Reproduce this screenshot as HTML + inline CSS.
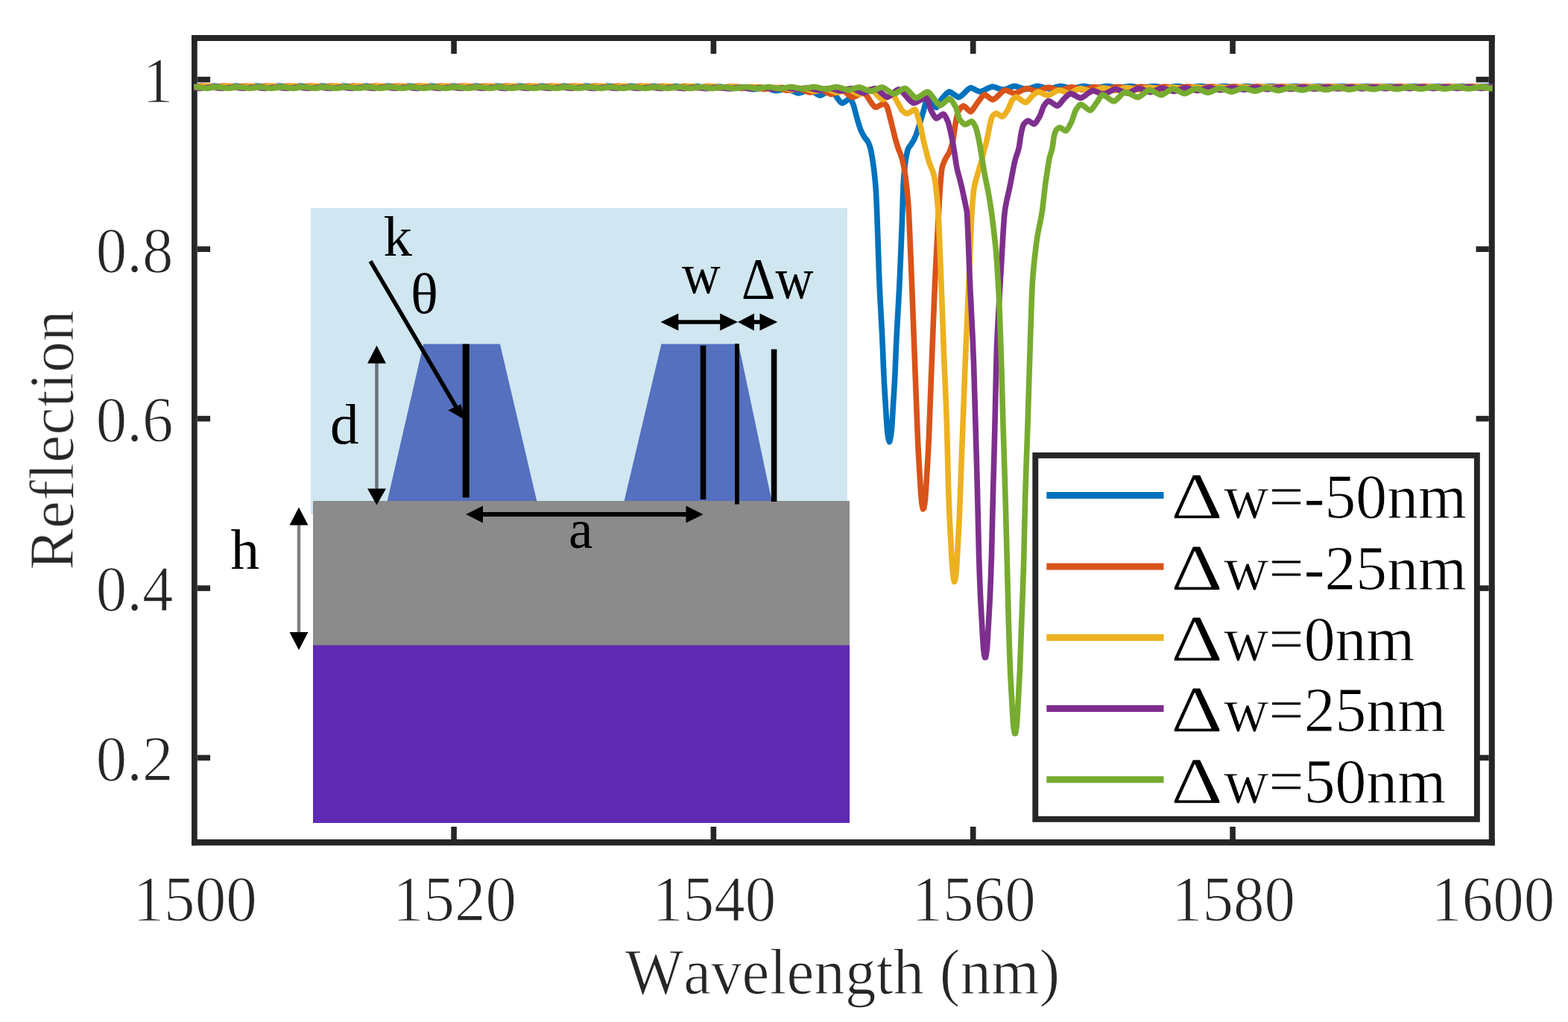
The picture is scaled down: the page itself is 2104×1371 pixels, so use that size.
<!DOCTYPE html>
<html lang="en"><head><meta charset="utf-8"><title>Reflection vs Wavelength</title>
<style>html,body{margin:0;padding:0;background:#fff;}body{width:2104px;height:1371px;overflow:hidden;}svg{display:block;}text{font-family:"Liberation Serif", "DejaVu Serif", serif;font-kerning:none;font-variant-ligatures:none;}</style>
</head><body>
<svg width="2104" height="1371" viewBox="0 0 2104 1371">
<defs><filter id="soft" filterUnits="userSpaceOnUse" x="0" y="0" width="2104" height="1371" color-interpolation-filters="sRGB"><feGaussianBlur stdDeviation="0.55"/></filter></defs>
<rect x="0" y="0" width="2104" height="1371" fill="#ffffff"/>
<g id="figure" filter="url(#soft)">
<g id="axes" stroke="#262626" fill="none" stroke-linecap="butt">
<line x1="260.90" y1="47.00" x2="260.90" y2="1134.30" stroke-width="7.7"/>
<line x1="2001.80" y1="47.00" x2="2001.80" y2="1134.30" stroke-width="8.0"/>
<line x1="257.05" y1="51.00" x2="2005.80" y2="51.00" stroke-width="8.0"/>
<line x1="257.05" y1="1130.20" x2="2005.80" y2="1130.20" stroke-width="8.2"/>
<line x1="609.06" y1="1126.20" x2="609.06" y2="1109.00" stroke-width="7.60"/>
<line x1="609.06" y1="55.00" x2="609.06" y2="72.20" stroke-width="7.60"/>
<line x1="957.40" y1="1126.20" x2="957.40" y2="1109.00" stroke-width="7.60"/>
<line x1="957.40" y1="55.00" x2="957.40" y2="72.20" stroke-width="7.60"/>
<line x1="1305.73" y1="1126.20" x2="1305.73" y2="1109.00" stroke-width="7.60"/>
<line x1="1305.73" y1="55.00" x2="1305.73" y2="72.20" stroke-width="7.60"/>
<line x1="1654.07" y1="1126.20" x2="1654.07" y2="1109.00" stroke-width="7.60"/>
<line x1="1654.07" y1="55.00" x2="1654.07" y2="72.20" stroke-width="7.60"/>
<line x1="264.90" y1="1016.55" x2="282.10" y2="1016.55" stroke-width="7.60"/>
<line x1="1997.80" y1="1016.55" x2="1980.60" y2="1016.55" stroke-width="7.60"/>
<line x1="264.90" y1="789.10" x2="282.10" y2="789.10" stroke-width="7.60"/>
<line x1="1997.80" y1="789.10" x2="1980.60" y2="789.10" stroke-width="7.60"/>
<line x1="264.90" y1="561.65" x2="282.10" y2="561.65" stroke-width="7.60"/>
<line x1="1997.80" y1="561.65" x2="1980.60" y2="561.65" stroke-width="7.60"/>
<line x1="264.90" y1="334.20" x2="282.10" y2="334.20" stroke-width="7.60"/>
<line x1="1997.80" y1="334.20" x2="1980.60" y2="334.20" stroke-width="7.60"/>
<line x1="264.90" y1="106.75" x2="282.10" y2="106.75" stroke-width="7.60"/>
<line x1="1997.80" y1="106.75" x2="1980.60" y2="106.75" stroke-width="7.60"/>
</g>
<g id="ticklabels">
<text transform="translate(261.63 1234.80) scale(0.9550 1.0000)" font-size="87.00" text-anchor="middle" fill="#262626" stroke="#ffffff" stroke-width="1.30" stroke-linejoin="round">1500</text>
<text transform="translate(609.96 1234.80) scale(0.9550 1.0000)" font-size="87.00" text-anchor="middle" fill="#262626" stroke="#ffffff" stroke-width="1.30" stroke-linejoin="round">1520</text>
<text transform="translate(958.30 1234.80) scale(0.9550 1.0000)" font-size="87.00" text-anchor="middle" fill="#262626" stroke="#ffffff" stroke-width="1.30" stroke-linejoin="round">1540</text>
<text transform="translate(1306.63 1234.80) scale(0.9550 1.0000)" font-size="87.00" text-anchor="middle" fill="#262626" stroke="#ffffff" stroke-width="1.30" stroke-linejoin="round">1560</text>
<text transform="translate(1654.97 1234.80) scale(0.9550 1.0000)" font-size="87.00" text-anchor="middle" fill="#262626" stroke="#ffffff" stroke-width="1.30" stroke-linejoin="round">1580</text>
<text transform="translate(2003.30 1234.80) scale(0.9550 1.0000)" font-size="87.00" text-anchor="middle" fill="#262626" stroke="#ffffff" stroke-width="1.30" stroke-linejoin="round">1600</text>
<text transform="translate(232.30 137.05) scale(0.9520 1.0000)" font-size="87.00" text-anchor="end" fill="#262626" stroke="#ffffff" stroke-width="1.30" stroke-linejoin="round">1</text>
<text transform="translate(232.30 364.50) scale(0.9520 1.0000)" font-size="87.00" text-anchor="end" fill="#262626" stroke="#ffffff" stroke-width="1.30" stroke-linejoin="round">0.8</text>
<text transform="translate(232.30 591.95) scale(0.9520 1.0000)" font-size="87.00" text-anchor="end" fill="#262626" stroke="#ffffff" stroke-width="1.30" stroke-linejoin="round">0.6</text>
<text transform="translate(232.30 819.40) scale(0.9520 1.0000)" font-size="87.00" text-anchor="end" fill="#262626" stroke="#ffffff" stroke-width="1.30" stroke-linejoin="round">0.4</text>
<text transform="translate(232.30 1046.85) scale(0.9520 1.0000)" font-size="87.00" text-anchor="end" fill="#262626" stroke="#ffffff" stroke-width="1.30" stroke-linejoin="round">0.2</text>
</g>
<text transform="translate(1130.50 1332.50) scale(0.9550 1.0000)" font-size="87.00" text-anchor="middle" fill="#262626" stroke="#ffffff" stroke-width="1.20" stroke-linejoin="round">Wavelength (nm)</text>
<text transform="translate(98.10 590.50) rotate(-90) scale(0.9850 1.0000)" font-size="85.00" text-anchor="middle" fill="#262626" stroke="#ffffff" stroke-width="1.20" stroke-linejoin="round">Reflection</text>
<g id="inset">
<rect x="417" y="279" width="720" height="411" fill="#d0e6f1"/>
<rect x="420" y="672" width="720" height="194" fill="#8b8b8b"/>
<rect x="420" y="865.5" width="720" height="238.5" fill="#5e2ab1"/>
<polygon points="568.2,461.5 670.9,461.5 720.3,672 519.7,672" fill="#5470be"/>
<polygon points="887.4,461.5 991,461.5 1035.6,672 837.6,672" fill="#5470be"/>
<g stroke="#000" fill="none">
<line x1="625.2" y1="461.5" x2="625.2" y2="667.5" stroke-width="9"/>
<line x1="943.5" y1="463.5" x2="943.5" y2="670" stroke-width="7.6"/>
<line x1="989" y1="461" x2="989" y2="676.5" stroke-width="6"/>
<line x1="1038.6" y1="468.5" x2="1038.6" y2="673" stroke-width="7.6"/>
<line x1="497" y1="350.3" x2="612" y2="546" stroke-width="5.5"/>
<line x1="640" y1="689.9" x2="930" y2="689.9" stroke-width="6"/>
<line x1="905" y1="432" x2="972" y2="432" stroke-width="5.5"/>
<line x1="1008" y1="432" x2="1024" y2="432" stroke-width="5.5"/>
</g>
<g stroke="#000" stroke-opacity="0.5" fill="none">
<line x1="505.5" y1="480" x2="505.5" y2="660" stroke-width="4.5"/>
<line x1="401" y1="700" x2="401" y2="855" stroke-width="4.5"/>
</g>
<g fill="#000" stroke="none">
<polygon points="623.8,563.2 601.3,550.2 618.4,542.2"/>
<polygon points="505.5,463.5 493,487.5 518,487.5"/>
<polygon points="505.5,677.5 493,655.5 518,655.5"/>
<polygon points="401,680.5 388.5,704.5 413.5,704.5"/>
<polygon points="401,872 388.5,848 413.5,848"/>
<polygon points="625.2,689.9 648,678.4 648,701.4"/>
<polygon points="943.5,689.9 920.5,678.4 920.5,701.4"/>
<polygon points="886.5,432 910.3,420.5 910.3,443.5"/>
<polygon points="990,432 966.2,420.5 966.2,443.5"/>
<polygon points="990,432 1012,420.5 1012,443.5"/>
<polygon points="1043.3,432 1019.5,420.5 1019.5,443.5"/>
</g>
<text transform="translate(514.50 342.50)" font-size="77.00" text-anchor="start" fill="#000">k</text>
<text transform="translate(551.00 419.50)" font-size="77.00" text-anchor="start" fill="#000">θ</text>
<text transform="translate(443.00 594.50)" font-size="77.00" text-anchor="start" fill="#000">d</text>
<text transform="translate(309.50 763.00)" font-size="77.00" text-anchor="start" fill="#000">h</text>
<text transform="translate(763.00 734.80)" font-size="73.00" text-anchor="start" fill="#000">a</text>
<text transform="translate(915.00 393.30) scale(0.9300 1.0000)" font-size="77.00" text-anchor="start" fill="#000">w</text>
<text transform="translate(995.00 400.00) scale(0.9050 1.0000)" font-size="78.00" text-anchor="start" fill="#000">Δw</text>
</g>
<g id="curves" fill="none" stroke-width="7.6" stroke-linejoin="round" stroke-linecap="butt">
<path stroke="#0072BD" d="M260.5 115.6L261.5 115.7L262.5 115.9L263.5 116.0L264.5 116.2L265.5 116.3L266.5 116.5L267.5 116.6L268.5 116.8L269.5 116.9L270.5 117.0L271.5 117.1L272.5 117.1L273.5 117.0L274.5 116.9L275.5 116.7L276.5 116.6L277.5 116.5L278.5 116.3L279.5 116.1L280.5 116.0L281.5 115.8L282.5 115.7L283.5 115.6L284.5 115.4L285.5 115.4L286.5 115.3L287.5 115.4L288.5 115.5L289.5 115.6L290.5 115.7L291.5 115.9L292.5 116.0L293.5 116.2L294.5 116.4L295.5 116.5L296.5 116.7L297.5 116.8L298.5 116.9L299.5 117.0L300.5 117.1L301.5 117.0L302.5 117.0L303.5 116.9L304.5 116.7L305.5 116.6L306.5 116.4L307.5 116.3L308.5 116.1L309.5 116.0L310.5 115.8L311.5 115.7L312.5 115.5L313.5 115.4L314.5 115.3L315.5 115.3L316.5 115.4L317.5 115.5L318.5 115.6L319.5 115.8L320.5 115.9L321.5 116.1L322.5 116.2L323.5 116.4L324.5 116.5L325.5 116.7L326.5 116.8L327.5 116.9L328.5 117.0L329.5 117.1L330.5 117.0L331.5 117.0L332.5 116.8L333.5 116.7L334.5 116.6L335.5 116.4L336.5 116.3L337.5 116.1L338.5 116.0L339.5 115.8L340.5 115.7L341.5 115.5L342.5 115.4L343.5 115.3L344.5 115.3L345.5 115.4L346.5 115.5L347.5 115.6L348.5 115.8L349.5 115.9L350.5 116.1L351.5 116.2L352.5 116.4L353.5 116.5L354.5 116.7L355.5 116.8L356.5 116.9L357.5 117.0L358.5 117.1L359.5 117.0L360.5 117.0L361.5 116.8L362.5 116.7L363.5 116.6L364.5 116.4L365.5 116.3L366.5 116.1L367.5 115.9L368.5 115.8L369.5 115.7L370.5 115.5L371.5 115.4L372.5 115.3L373.5 115.3L374.5 115.4L375.5 115.5L376.5 115.6L377.5 115.8L378.5 115.9L379.5 116.1L380.5 116.2L381.5 116.4L382.5 116.5L383.5 116.7L384.5 116.8L385.5 116.9L386.5 117.0L387.5 117.1L388.5 117.0L389.5 117.0L390.5 116.8L391.5 116.7L392.5 116.6L393.5 116.4L394.5 116.3L395.5 116.1L396.5 116.0L397.5 115.8L398.5 115.7L399.5 115.5L400.5 115.4L401.5 115.3L402.5 115.3L403.5 115.4L404.5 115.5L405.5 115.6L406.5 115.7L407.5 115.9L408.5 116.0L409.5 116.2L410.5 116.4L411.5 116.5L412.5 116.7L413.5 116.8L414.5 116.9L415.5 117.0L416.5 117.1L417.5 117.1L418.5 117.0L419.5 116.9L420.5 116.7L421.5 116.6L422.5 116.4L423.5 116.3L424.5 116.1L425.5 116.0L426.5 115.8L427.5 115.7L428.5 115.6L429.5 115.4L430.5 115.4L431.5 115.3L432.5 115.4L433.5 115.5L434.5 115.6L435.5 115.7L436.5 115.9L437.5 116.0L438.5 116.2L439.5 116.3L440.5 116.5L441.5 116.6L442.5 116.8L443.5 116.9L444.5 117.0L445.5 117.1L446.5 117.1L447.5 117.0L448.5 116.9L449.5 116.8L450.5 116.6L451.5 116.5L452.5 116.3L453.5 116.2L454.5 116.0L455.5 115.8L456.5 115.7L457.5 115.6L458.5 115.5L459.5 115.4L460.5 115.3L461.5 115.4L462.5 115.5L463.5 115.6L464.5 115.7L465.5 115.8L466.5 116.0L467.5 116.1L468.5 116.3L469.5 116.5L470.5 116.6L471.5 116.7L472.5 116.9L473.5 117.0L474.5 117.1L475.5 117.1L476.5 117.0L477.5 116.9L478.5 116.8L479.5 116.6L480.5 116.5L481.5 116.3L482.5 116.2L483.5 116.0L484.5 115.9L485.5 115.7L486.5 115.6L487.5 115.5L488.5 115.4L489.5 115.3L490.5 115.3L491.5 115.4L492.5 115.5L493.5 115.7L494.5 115.8L495.5 116.0L496.5 116.1L497.5 116.3L498.5 116.4L499.5 116.6L500.5 116.7L501.5 116.8L502.5 117.0L503.5 117.0L504.5 117.1L505.5 117.0L506.5 116.9L507.5 116.8L508.5 116.7L509.5 116.5L510.5 116.4L511.5 116.2L512.5 116.1L513.5 115.9L514.5 115.8L515.5 115.6L516.5 115.5L517.5 115.4L518.5 115.3L519.5 115.3L520.5 115.4L521.5 115.5L522.5 115.6L523.5 115.8L524.5 115.9L525.5 116.1L526.5 116.2L527.5 116.4L528.5 116.5L529.5 116.7L530.5 116.8L531.5 116.9L532.5 117.0L533.5 117.1L534.5 117.0L535.5 117.0L536.5 116.9L537.5 116.7L538.5 116.6L539.5 116.4L540.5 116.3L541.5 116.1L542.5 116.0L543.5 115.8L544.5 115.7L545.5 115.6L546.5 115.5L547.5 115.4L548.5 115.3L549.5 115.4L550.5 115.5L551.5 115.6L552.5 115.7L553.5 115.9L554.5 116.0L555.5 116.2L556.5 116.3L557.5 116.5L558.5 116.6L559.5 116.8L560.5 116.9L561.5 117.0L562.5 117.1L563.5 117.1L564.5 117.0L565.5 116.9L566.5 116.8L567.5 116.6L568.5 116.5L569.5 116.3L570.5 116.2L571.5 116.0L572.5 115.9L573.5 115.7L574.5 115.6L575.5 115.5L576.5 115.4L577.5 115.3L578.5 115.3L579.5 115.4L580.5 115.5L581.5 115.7L582.5 115.8L583.5 115.9L584.5 116.1L585.5 116.3L586.5 116.4L587.5 116.6L588.5 116.7L589.5 116.8L590.5 116.9L591.5 117.0L592.5 117.1L593.5 117.0L594.5 116.9L595.5 116.8L596.5 116.7L597.5 116.6L598.5 116.4L599.5 116.3L600.5 116.1L601.5 116.0L602.5 115.8L603.5 115.7L604.5 115.5L605.5 115.4L606.5 115.4L607.5 115.3L608.5 115.4L609.5 115.5L610.5 115.6L611.5 115.7L612.5 115.9L613.5 116.0L614.5 116.2L615.5 116.3L616.5 116.5L617.5 116.6L618.5 116.8L619.5 116.9L620.5 117.0L621.5 117.1L622.5 117.1L623.5 117.0L624.5 116.9L625.5 116.8L626.5 116.6L627.5 116.5L628.5 116.3L629.5 116.2L630.5 116.0L631.5 115.9L632.5 115.7L633.5 115.6L634.5 115.5L635.5 115.4L636.5 115.3L637.5 115.3L638.5 115.4L639.5 115.5L640.5 115.7L641.5 115.8L642.5 115.9L643.5 116.1L644.5 116.3L645.5 116.4L646.5 116.6L647.5 116.7L648.5 116.8L649.5 116.9L650.5 117.0L651.5 117.1L652.5 117.0L653.5 117.0L654.5 116.8L655.5 116.7L656.5 116.6L657.5 116.4L658.5 116.3L659.5 116.1L660.5 116.0L661.5 115.8L662.5 115.7L663.5 115.6L664.5 115.5L665.5 115.4L666.5 115.3L667.5 115.4L668.5 115.5L669.5 115.6L670.5 115.7L671.5 115.9L672.5 116.0L673.5 116.2L674.5 116.3L675.5 116.5L676.5 116.6L677.5 116.8L678.5 116.9L679.5 117.0L680.5 117.1L681.5 117.1L682.5 117.0L683.5 116.9L684.5 116.8L685.5 116.7L686.5 116.5L687.5 116.4L688.5 116.2L689.5 116.1L690.5 115.9L691.5 115.8L692.5 115.6L693.5 115.5L694.5 115.4L695.5 115.3L696.5 115.3L697.5 115.4L698.5 115.5L699.5 115.6L700.5 115.8L701.5 115.9L702.5 116.1L703.5 116.2L704.5 116.4L705.5 116.5L706.5 116.7L707.5 116.8L708.5 116.9L709.5 117.0L710.5 117.1L711.5 117.1L712.5 117.0L713.5 116.9L714.5 116.8L715.5 116.6L716.5 116.5L717.5 116.3L718.5 116.2L719.5 116.0L720.5 115.9L721.5 115.7L722.5 115.6L723.5 115.5L724.5 115.4L725.5 115.3L726.5 115.4L727.5 115.5L728.5 115.6L729.5 115.7L730.5 115.8L731.5 116.0L732.5 116.1L733.5 116.3L734.5 116.4L735.5 116.6L736.5 116.7L737.5 116.9L738.5 117.0L739.5 117.1L740.5 117.1L741.5 117.1L742.5 117.0L743.5 116.9L744.5 116.7L745.5 116.6L746.5 116.5L747.5 116.3L748.5 116.2L749.5 116.0L750.5 115.9L751.5 115.7L752.5 115.6L753.5 115.5L754.5 115.4L755.5 115.3L756.5 115.4L757.5 115.5L758.5 115.6L759.5 115.7L760.5 115.9L761.5 116.0L762.5 116.2L763.5 116.3L764.5 116.5L765.5 116.6L766.5 116.8L767.5 116.9L768.5 117.0L769.5 117.1L770.5 117.1L771.5 117.1L772.5 117.0L773.5 116.9L774.5 116.7L775.5 116.6L776.5 116.4L777.5 116.3L778.5 116.1L779.5 116.0L780.5 115.8L781.5 115.7L782.5 115.6L783.5 115.5L784.5 115.4L785.5 115.4L786.5 115.4L787.5 115.5L788.5 115.6L789.5 115.8L790.5 115.9L791.5 116.1L792.5 116.2L793.5 116.4L794.5 116.5L795.5 116.7L796.5 116.8L797.5 116.9L798.5 117.1L799.5 117.1L800.5 117.2L801.5 117.1L802.5 117.0L803.5 116.9L804.5 116.7L805.5 116.6L806.5 116.5L807.5 116.3L808.5 116.1L809.5 116.0L810.5 115.9L811.5 115.7L812.5 115.6L813.5 115.5L814.5 115.4L815.5 115.4L816.5 115.5L817.5 115.6L818.5 115.7L819.5 115.8L820.5 116.0L821.5 116.1L822.5 116.3L823.5 116.4L824.5 116.6L825.5 116.7L826.5 116.9L827.5 117.0L828.5 117.1L829.5 117.2L830.5 117.2L831.5 117.1L832.5 117.0L833.5 116.9L834.5 116.8L835.5 116.6L836.5 116.5L837.5 116.3L838.5 116.2L839.5 116.0L840.5 115.9L841.5 115.8L842.5 115.6L843.5 115.5L844.5 115.4L845.5 115.4L846.5 115.5L847.5 115.6L848.5 115.8L849.5 115.9L850.5 116.0L851.5 116.2L852.5 116.4L853.5 116.5L854.5 116.7L855.5 116.8L856.5 117.0L857.5 117.1L858.5 117.2L859.5 117.3L860.5 117.3L861.5 117.2L862.5 117.1L863.5 117.0L864.5 116.9L865.5 116.7L866.5 116.6L867.5 116.4L868.5 116.3L869.5 116.1L870.5 116.0L871.5 115.8L872.5 115.7L873.5 115.6L874.5 115.5L875.5 115.5L876.5 115.6L877.5 115.7L878.5 115.8L879.5 116.0L880.5 116.1L881.5 116.3L882.5 116.5L883.5 116.6L884.5 116.8L885.5 117.0L886.5 117.1L887.5 117.2L888.5 117.3L889.5 117.4L890.5 117.4L891.5 117.4L892.5 117.3L893.5 117.1L894.5 117.0L895.5 116.9L896.5 116.7L897.5 116.6L898.5 116.4L899.5 116.2L900.5 116.1L901.5 116.0L902.5 115.8L903.5 115.7L904.5 115.7L905.5 115.6L906.5 115.7L907.5 115.8L908.5 116.0L909.5 116.1L910.5 116.3L911.5 116.5L912.5 116.6L913.5 116.8L914.5 117.0L915.5 117.2L916.5 117.3L917.5 117.5L918.5 117.6L919.5 117.7L920.5 117.7L921.5 117.6L922.5 117.5L923.5 117.4L924.5 117.3L925.5 117.1L926.5 117.0L927.5 116.8L928.5 116.6L929.5 116.5L930.5 116.3L931.5 116.2L932.5 116.1L933.5 115.9L934.5 115.9L935.5 115.8L936.5 115.9L937.5 116.1L938.5 116.2L939.5 116.4L940.5 116.5L941.5 116.7L942.5 116.9L943.5 117.1L944.5 117.3L945.5 117.5L946.5 117.7L947.5 117.8L948.5 117.9L949.5 118.0L950.5 118.1L951.5 118.0L952.5 117.9L953.5 117.8L954.5 117.7L955.5 117.5L956.5 117.3L957.5 117.2L958.5 117.0L959.5 116.9L960.5 116.7L961.5 116.6L962.5 116.4L963.5 116.3L964.5 116.2L965.5 116.2L966.5 116.3L967.5 116.4L968.5 116.6L969.5 116.7L970.5 116.9L971.5 117.2L972.5 117.4L973.5 117.6L974.5 117.8L975.5 118.0L976.5 118.2L977.5 118.4L978.5 118.5L979.5 118.7L980.5 118.8L981.5 118.7L982.5 118.6L983.5 118.5L984.5 118.3L985.5 118.2L986.5 118.0L987.5 117.8L988.5 117.7L989.5 117.5L990.5 117.3L991.5 117.2L992.5 117.0L993.5 116.9L994.5 116.8L995.5 116.7L996.5 116.8L997.5 117.0L998.5 117.2L999.5 117.4L1000.5 117.6L1001.5 117.9L1002.5 118.1L1003.5 118.4L1004.5 118.6L1005.5 118.9L1006.5 119.1L1007.5 119.4L1008.5 119.6L1009.5 119.7L1010.5 119.8L1011.5 119.8L1012.5 119.7L1013.5 119.6L1014.5 119.4L1015.5 119.3L1016.5 119.1L1017.5 118.9L1018.5 118.7L1019.5 118.5L1020.5 118.3L1021.5 118.2L1022.5 118.0L1023.5 117.9L1024.5 117.8L1025.5 117.7L1026.5 117.7L1027.5 117.9L1028.5 118.1L1029.5 118.4L1030.5 118.7L1031.5 119.0L1032.5 119.3L1033.5 119.7L1034.5 120.0L1035.5 120.3L1036.5 120.7L1037.5 121.0L1038.5 121.2L1039.5 121.4L1040.5 121.6L1041.5 121.6L1042.5 121.5L1043.5 121.4L1044.5 121.2L1045.5 121.1L1046.5 120.9L1047.5 120.7L1048.5 120.5L1049.5 120.2L1050.5 120.0L1051.5 119.8L1052.5 119.7L1053.5 119.5L1054.5 119.4L1055.5 119.2L1056.5 119.2L1057.5 119.5L1058.5 119.8L1059.5 120.1L1060.5 120.5L1061.5 121.0L1062.5 121.5L1063.5 121.9L1064.5 122.4L1065.5 122.9L1066.5 123.4L1067.5 123.8L1068.5 124.2L1069.5 124.5L1070.5 124.8L1071.5 125.0L1072.5 124.8L1073.5 124.6L1074.5 124.3L1075.5 123.9L1076.5 123.6L1077.5 123.2L1078.5 122.8L1079.5 122.4L1080.5 122.0L1081.5 121.7L1082.5 121.3L1083.5 121.0L1084.5 120.8L1085.5 120.6L1086.5 120.7L1087.5 121.0L1088.5 121.5L1089.5 122.0L1090.5 122.6L1091.5 123.2L1092.5 123.9L1093.5 124.5L1094.5 125.2L1095.5 125.8L1096.5 126.4L1097.5 126.9L1098.5 127.4L1099.5 127.8L1100.5 128.0L1101.5 127.7L1102.5 127.3L1103.5 126.8L1104.5 126.3L1105.5 125.7L1106.5 125.1L1107.5 124.5L1108.5 123.9L1109.5 123.3L1110.5 122.7L1111.5 122.2L1112.5 121.8L1113.5 121.4L1114.5 121.1L1115.5 121.4L1116.5 122.2L1117.5 123.2L1118.5 124.4L1119.5 125.6L1120.5 127.0L1121.5 128.4L1122.5 129.9L1123.5 131.4L1124.5 132.8L1125.5 134.1L1126.5 135.4L1127.5 136.5L1128.5 137.5L1129.5 138.2L1130.5 138.3L1131.5 137.9L1132.5 137.4L1133.5 136.7L1134.5 136.0L1135.5 135.3L1136.5 134.5L1137.5 133.8L1138.5 133.2L1139.5 132.7L1140.5 132.3L1141.5 133.3L1142.5 134.9L1143.5 136.9L1144.5 139.1L1145.5 141.6L1146.5 145.3L1147.5 149.3L1148.5 153.1L1149.5 156.9L1150.5 160.6L1151.5 164.0L1152.5 167.2L1153.5 170.3L1154.5 173.2L1155.5 175.6L1156.5 177.7L1157.5 179.6L1158.5 181.4L1159.5 183.2L1160.5 184.8L1161.5 186.1L1162.5 187.3L1163.5 188.5L1164.5 189.9L1165.5 191.9L1166.5 194.5L1167.5 197.4L1168.5 201.3L1169.5 206.4L1170.5 212.0L1171.5 218.8L1172.5 226.1L1173.5 234.7L1174.5 244.7L1175.5 257.7L1176.5 279.7L1177.5 307.2L1178.5 337.2L1179.5 366.5L1180.5 390.4L1181.5 409.7L1182.5 428.2L1183.5 447.1L1184.5 468.7L1185.5 493.8L1186.5 514.4L1187.5 530.9L1188.5 547.0L1189.5 563.1L1190.5 577.7L1191.5 585.4L1192.5 590.3L1193.5 592.7L1194.5 589.5L1195.5 584.0L1196.5 575.5L1197.5 559.8L1198.5 543.8L1199.5 527.6L1200.5 511.0L1201.5 488.8L1202.5 463.8L1203.5 443.7L1204.5 425.6L1205.5 408.0L1206.5 389.7L1207.5 368.6L1208.5 345.4L1209.5 321.2L1210.5 295.5L1211.5 263.7L1212.5 240.2L1213.5 229.0L1214.5 219.7L1215.5 213.3L1216.5 207.9L1217.5 203.1L1218.5 199.6L1219.5 197.9L1220.5 196.5L1221.5 195.2L1222.5 193.8L1223.5 192.2L1224.5 190.6L1225.5 189.0L1226.5 187.2L1227.5 185.1L1228.5 182.7L1229.5 180.1L1230.5 177.4L1231.5 174.3L1232.5 171.1L1233.5 167.9L1234.5 164.6L1235.5 161.3L1236.5 158.0L1237.5 154.6L1238.5 151.1L1239.5 147.6L1240.5 143.6L1241.5 139.6L1242.5 137.1L1243.5 135.2L1244.5 133.6L1245.5 132.4L1246.5 132.3L1247.5 133.2L1248.5 134.4L1249.5 135.8L1250.5 137.3L1251.5 138.9L1252.5 140.4L1253.5 141.8L1254.5 143.1L1255.5 144.0L1256.5 144.2L1257.5 143.0L1258.5 141.4L1259.5 139.4L1260.5 137.5L1261.5 135.6L1262.5 134.2L1263.5 133.0L1264.5 131.8L1265.5 130.6L1266.5 129.4L1267.5 128.2L1268.5 127.1L1269.5 126.1L1270.5 125.2L1271.5 124.4L1272.5 123.7L1273.5 123.1L1274.5 123.3L1275.5 123.7L1276.5 124.2L1277.5 124.9L1278.5 125.5L1279.5 126.3L1280.5 127.0L1281.5 127.7L1282.5 128.4L1283.5 129.1L1284.5 129.7L1285.5 130.1L1286.5 130.5L1287.5 130.1L1288.5 129.5L1289.5 128.8L1290.5 128.0L1291.5 127.2L1292.5 126.2L1293.5 125.2L1294.5 124.2L1295.5 123.2L1296.5 122.2L1297.5 121.2L1298.5 120.3L1299.5 119.5L1300.5 118.8L1301.5 118.2L1302.5 117.8L1303.5 118.0L1304.5 118.4L1305.5 118.8L1306.5 119.2L1307.5 119.7L1308.5 120.3L1309.5 120.8L1310.5 121.3L1311.5 121.8L1312.5 122.2L1313.5 122.6L1314.5 122.9L1315.5 122.9L1316.5 122.6L1317.5 122.3L1318.5 121.9L1319.5 121.5L1320.5 121.1L1321.5 120.6L1322.5 120.1L1323.5 119.5L1324.5 119.0L1325.5 118.5L1326.5 118.1L1327.5 117.6L1328.5 117.2L1329.5 116.8L1330.5 116.5L1331.5 116.3L1332.5 116.4L1333.5 116.6L1334.5 116.9L1335.5 117.2L1336.5 117.5L1337.5 117.8L1338.5 118.2L1339.5 118.6L1340.5 118.9L1341.5 119.3L1342.5 119.6L1343.5 119.9L1344.5 120.1L1345.5 120.3L1346.5 120.5L1347.5 120.3L1348.5 120.1L1349.5 119.7L1350.5 119.4L1351.5 119.0L1352.5 118.6L1353.5 118.2L1354.5 117.7L1355.5 117.3L1356.5 116.9L1357.5 116.5L1358.5 116.2L1359.5 115.9L1360.5 115.6L1361.5 115.5L1362.5 115.7L1363.5 115.9L1364.5 116.2L1365.5 116.5L1366.5 116.8L1367.5 117.1L1368.5 117.5L1369.5 117.8L1370.5 118.1L1371.5 118.5L1372.5 118.8L1373.5 119.1L1374.5 119.3L1375.5 119.5L1376.5 119.7L1377.5 119.6L1378.5 119.4L1379.5 119.2L1380.5 118.9L1381.5 118.6L1382.5 118.3L1383.5 117.9L1384.5 117.6L1385.5 117.3L1386.5 116.9L1387.5 116.6L1388.5 116.3L1389.5 116.0L1390.5 115.8L1391.5 115.6L1392.5 115.6L1393.5 115.7L1394.5 115.9L1395.5 116.1L1396.5 116.4L1397.5 116.6L1398.5 116.9L1399.5 117.2L1400.5 117.5L1401.5 117.8L1402.5 118.0L1403.5 118.3L1404.5 118.5L1405.5 118.7L1406.5 118.9L1407.5 119.1L1408.5 119.0L1409.5 118.8L1410.5 118.6L1411.5 118.4L1412.5 118.1L1413.5 117.9L1414.5 117.6L1415.5 117.3L1416.5 117.0L1417.5 116.7L1418.5 116.5L1419.5 116.2L1420.5 116.0L1421.5 115.8L1422.5 115.7L1423.5 115.6L1424.5 115.7L1425.5 115.9L1426.5 116.1L1427.5 116.3L1428.5 116.5L1429.5 116.7L1430.5 117.0L1431.5 117.2L1432.5 117.5L1433.5 117.7L1434.5 117.9L1435.5 118.1L1436.5 118.3L1437.5 118.4L1438.5 118.6L1439.5 118.5L1440.5 118.4L1441.5 118.2L1442.5 118.0L1443.5 117.8L1444.5 117.6L1445.5 117.3L1446.5 117.1L1447.5 116.9L1448.5 116.6L1449.5 116.4L1450.5 116.2L1451.5 116.0L1452.5 115.8L1453.5 115.7L1454.5 115.6L1455.5 115.7L1456.5 115.9L1457.5 116.0L1458.5 116.2L1459.5 116.4L1460.5 116.6L1461.5 116.8L1462.5 117.0L1463.5 117.2L1464.5 117.4L1465.5 117.6L1466.5 117.8L1467.5 117.9L1468.5 118.1L1469.5 118.2L1470.5 118.1L1471.5 118.0L1472.5 117.9L1473.5 117.7L1474.5 117.5L1475.5 117.4L1476.5 117.1L1477.5 116.9L1478.5 116.7L1479.5 116.5L1480.5 116.3L1481.5 116.1L1482.5 116.0L1483.5 115.8L1484.5 115.7L1485.5 115.6L1486.5 115.7L1487.5 115.8L1488.5 116.0L1489.5 116.1L1490.5 116.3L1491.5 116.4L1492.5 116.6L1493.5 116.8L1494.5 117.0L1495.5 117.2L1496.5 117.3L1497.5 117.5L1498.5 117.6L1499.5 117.8L1500.5 117.9L1501.5 117.9L1502.5 117.8L1503.5 117.7L1504.5 117.5L1505.5 117.4L1506.5 117.2L1507.5 117.0L1508.5 116.8L1509.5 116.6L1510.5 116.5L1511.5 116.3L1512.5 116.1L1513.5 116.0L1514.5 115.8L1515.5 115.7L1516.5 115.7L1517.5 115.7L1518.5 115.8L1519.5 115.9L1520.5 116.0L1521.5 116.2L1522.5 116.3L1523.5 116.5L1524.5 116.7L1525.5 116.8L1526.5 117.0L1527.5 117.1L1528.5 117.3L1529.5 117.4L1530.5 117.5L1531.5 117.6L1532.5 117.7L1533.5 117.6L1534.5 117.5L1535.5 117.4L1536.5 117.2L1537.5 117.1L1538.5 116.9L1539.5 116.8L1540.5 116.6L1541.5 116.4L1542.5 116.3L1543.5 116.1L1544.5 116.0L1545.5 115.9L1546.5 115.8L1547.5 115.7L1548.5 115.7L1549.5 115.8L1550.5 115.9L1551.5 116.0L1552.5 116.1L1553.5 116.2L1554.5 116.4L1555.5 116.5L1556.5 116.7L1557.5 116.8L1558.5 117.0L1559.5 117.1L1560.5 117.2L1561.5 117.3L1562.5 117.4L1563.5 117.5L1564.5 117.4L1565.5 117.3L1566.5 117.2L1567.5 117.1L1568.5 117.0L1569.5 116.9L1570.5 116.7L1571.5 116.6L1572.5 116.4L1573.5 116.3L1574.5 116.1L1575.5 116.0L1576.5 115.9L1577.5 115.8L1578.5 115.7L1579.5 115.7L1580.5 115.7L1581.5 115.8L1582.5 115.9L1583.5 116.0L1584.5 116.2L1585.5 116.3L1586.5 116.4L1587.5 116.6L1588.5 116.7L1589.5 116.8L1590.5 117.0L1591.5 117.1L1592.5 117.2L1593.5 117.3L1594.5 117.3L1595.5 117.3L1596.5 117.3L1597.5 117.2L1598.5 117.1L1599.5 116.9L1600.5 116.8L1601.5 116.7L1602.5 116.6L1603.5 116.4L1604.5 116.3L1605.5 116.2L1606.5 116.0L1607.5 115.9L1608.5 115.8L1609.5 115.7L1610.5 115.7L1611.5 115.7L1612.5 115.8L1613.5 115.9L1614.5 116.0L1615.5 116.1L1616.5 116.2L1617.5 116.3L1618.5 116.5L1619.5 116.6L1620.5 116.7L1621.5 116.8L1622.5 116.9L1623.5 117.0L1624.5 117.1L1625.5 117.2L1626.5 117.2L1627.5 117.2L1628.5 117.1L1629.5 117.0L1630.5 116.9L1631.5 116.8L1632.5 116.7L1633.5 116.6L1634.5 116.4L1635.5 116.3L1636.5 116.2L1637.5 116.1L1638.5 116.0L1639.5 115.9L1640.5 115.8L1641.5 115.7L1642.5 115.7L1643.5 115.8L1644.5 115.8L1645.5 115.9L1646.5 116.0L1647.5 116.1L1648.5 116.2L1649.5 116.4L1650.5 116.5L1651.5 116.6L1652.5 116.7L1653.5 116.8L1654.5 116.9L1655.5 117.0L1656.5 117.1L1657.5 117.2L1658.5 117.1L1659.5 117.1L1660.5 117.0L1661.5 116.9L1662.5 116.8L1663.5 116.7L1664.5 116.6L1665.5 116.5L1666.5 116.3L1667.5 116.2L1668.5 116.1L1669.5 116.0L1670.5 115.9L1671.5 115.8L1672.5 115.7L1673.5 115.7L1674.5 115.7L1675.5 115.8L1676.5 115.9L1677.5 116.0L1678.5 116.1L1679.5 116.2L1680.5 116.3L1681.5 116.4L1682.5 116.5L1683.5 116.6L1684.5 116.7L1685.5 116.8L1686.5 116.9L1687.5 117.0L1688.5 117.1L1689.5 117.1L1690.5 117.1L1691.5 117.0L1692.5 116.9L1693.5 116.8L1694.5 116.7L1695.5 116.6L1696.5 116.5L1697.5 116.4L1698.5 116.3L1699.5 116.1L1700.5 116.0L1701.5 115.9L1702.5 115.9L1703.5 115.8L1704.5 115.7L1705.5 115.7L1706.5 115.8L1707.5 115.8L1708.5 115.9L1709.5 116.0L1710.5 116.1L1711.5 116.2L1712.5 116.3L1713.5 116.4L1714.5 116.5L1715.5 116.6L1716.5 116.7L1717.5 116.8L1718.5 116.9L1719.5 117.0L1720.5 117.0L1721.5 117.0L1722.5 117.0L1723.5 116.9L1724.5 116.8L1725.5 116.7L1726.5 116.6L1727.5 116.5L1728.5 116.4L1729.5 116.3L1730.5 116.2L1731.5 116.1L1732.5 116.0L1733.5 115.9L1734.5 115.8L1735.5 115.8L1736.5 115.7L1737.5 115.7L1738.5 115.8L1739.5 115.8L1740.5 115.9L1741.5 116.0L1742.5 116.1L1743.5 116.2L1744.5 116.3L1745.5 116.4L1746.5 116.5L1747.5 116.6L1748.5 116.7L1749.5 116.8L1750.5 116.9L1751.5 117.0L1752.5 117.0L1753.5 117.0L1754.5 116.9L1755.5 116.9L1756.5 116.8L1757.5 116.7L1758.5 116.6L1759.5 116.5L1760.5 116.4L1761.5 116.3L1762.5 116.2L1763.5 116.1L1764.5 116.0L1765.5 115.9L1766.5 115.8L1767.5 115.7L1768.5 115.7L1769.5 115.7L1770.5 115.8L1771.5 115.9L1772.5 116.0L1773.5 116.0L1774.5 116.1L1775.5 116.2L1776.5 116.3L1777.5 116.5L1778.5 116.6L1779.5 116.7L1780.5 116.7L1781.5 116.8L1782.5 116.9L1783.5 117.0L1784.5 117.0L1785.5 116.9L1786.5 116.9L1787.5 116.8L1788.5 116.7L1789.5 116.6L1790.5 116.5L1791.5 116.4L1792.5 116.3L1793.5 116.2L1794.5 116.1L1795.5 116.0L1796.5 115.9L1797.5 115.9L1798.5 115.8L1799.5 115.7L1800.5 115.7L1801.5 115.8L1802.5 115.8L1803.5 115.9L1804.5 116.0L1805.5 116.1L1806.5 116.2L1807.5 116.3L1808.5 116.4L1809.5 116.5L1810.5 116.6L1811.5 116.7L1812.5 116.7L1813.5 116.8L1814.5 116.9L1815.5 116.9L1816.5 117.0L1817.5 116.9L1818.5 116.8L1819.5 116.8L1820.5 116.7L1821.5 116.6L1822.5 116.5L1823.5 116.4L1824.5 116.3L1825.5 116.2L1826.5 116.1L1827.5 116.0L1828.5 115.9L1829.5 115.8L1830.5 115.8L1831.5 115.7L1832.5 115.7L1833.5 115.8L1834.5 115.8L1835.5 115.9L1836.5 116.0L1837.5 116.1L1838.5 116.2L1839.5 116.3L1840.5 116.4L1841.5 116.5L1842.5 116.6L1843.5 116.7L1844.5 116.7L1845.5 116.8L1846.5 116.9L1847.5 116.9L1848.5 116.9L1849.5 116.9L1850.5 116.8L1851.5 116.7L1852.5 116.7L1853.5 116.6L1854.5 116.5L1855.5 116.4L1856.5 116.3L1857.5 116.2L1858.5 116.1L1859.5 116.0L1860.5 115.9L1861.5 115.8L1862.5 115.8L1863.5 115.7L1864.5 115.7L1865.5 115.8L1866.5 115.8L1867.5 115.9L1868.5 116.0L1869.5 116.1L1870.5 116.2L1871.5 116.3L1872.5 116.4L1873.5 116.5L1874.5 116.6L1875.5 116.7L1876.5 116.7L1877.5 116.8L1878.5 116.9L1879.5 116.9L1880.5 116.9L1881.5 116.9L1882.5 116.8L1883.5 116.7L1884.5 116.6L1885.5 116.6L1886.5 116.5L1887.5 116.4L1888.5 116.3L1889.5 116.2L1890.5 116.1L1891.5 116.0L1892.5 115.9L1893.5 115.8L1894.5 115.8L1895.5 115.7L1896.5 115.7L1897.5 115.8L1898.5 115.8L1899.5 115.9L1900.5 116.0L1901.5 116.1L1902.5 116.2L1903.5 116.3L1904.5 116.4L1905.5 116.5L1906.5 116.6L1907.5 116.6L1908.5 116.7L1909.5 116.8L1910.5 116.9L1911.5 116.9L1912.5 116.9L1913.5 116.9L1914.5 116.8L1915.5 116.7L1916.5 116.6L1917.5 116.6L1918.5 116.5L1919.5 116.4L1920.5 116.3L1921.5 116.2L1922.5 116.1L1923.5 116.0L1924.5 115.9L1925.5 115.8L1926.5 115.8L1927.5 115.7L1928.5 115.7L1929.5 115.8L1930.5 115.8L1931.5 115.9L1932.5 116.0L1933.5 116.1L1934.5 116.2L1935.5 116.3L1936.5 116.4L1937.5 116.5L1938.5 116.6L1939.5 116.6L1940.5 116.7L1941.5 116.8L1942.5 116.9L1943.5 116.9L1944.5 116.9L1945.5 116.9L1946.5 116.8L1947.5 116.7L1948.5 116.6L1949.5 116.6L1950.5 116.5L1951.5 116.4L1952.5 116.3L1953.5 116.2L1954.5 116.1L1955.5 116.0L1956.5 115.9L1957.5 115.8L1958.5 115.8L1959.5 115.7L1960.5 115.7L1961.5 115.8L1962.5 115.8L1963.5 115.9L1964.5 116.0L1965.5 116.1L1966.5 116.2L1967.5 116.3L1968.5 116.4L1969.5 116.4L1970.5 116.5L1971.5 116.6L1972.5 116.7L1973.5 116.8L1974.5 116.8L1975.5 116.9L1976.5 116.9L1977.5 116.9L1978.5 116.8L1979.5 116.7L1980.5 116.6L1981.5 116.6L1982.5 116.5L1983.5 116.4L1984.5 116.3L1985.5 116.2L1986.5 116.1L1987.5 116.0L1988.5 115.9L1989.5 115.8L1990.5 115.8L1991.5 115.7L1992.5 115.7L1993.5 115.7L1994.5 115.8L1995.5 115.8L1996.5 115.9L1997.5 116.0L1998.5 116.0L1999.5 116.1L2000.5 116.2L2001.5 116.2L2002.5 116.3"/>
<path stroke="#D95319" d="M260.5 116.8L261.5 116.7L262.5 116.5L263.5 116.4L264.5 116.2L265.5 116.1L266.5 115.9L267.5 115.8L268.5 115.6L269.5 115.5L270.5 115.4L271.5 115.3L272.5 115.3L273.5 115.4L274.5 115.5L275.5 115.7L276.5 115.8L277.5 116.0L278.5 116.1L279.5 116.3L280.5 116.4L281.5 116.6L282.5 116.7L283.5 116.8L284.5 117.0L285.5 117.0L286.5 117.1L287.5 117.0L288.5 116.9L289.5 116.8L290.5 116.7L291.5 116.5L292.5 116.4L293.5 116.2L294.5 116.0L295.5 115.9L296.5 115.7L297.5 115.6L298.5 115.5L299.5 115.4L300.5 115.3L301.5 115.4L302.5 115.4L303.5 115.5L304.5 115.7L305.5 115.8L306.5 116.0L307.5 116.1L308.5 116.3L309.5 116.4L310.5 116.6L311.5 116.7L312.5 116.9L313.5 117.0L314.5 117.1L315.5 117.1L316.5 117.0L317.5 116.9L318.5 116.8L319.5 116.6L320.5 116.5L321.5 116.3L322.5 116.2L323.5 116.0L324.5 115.9L325.5 115.7L326.5 115.6L327.5 115.5L328.5 115.4L329.5 115.3L330.5 115.4L331.5 115.4L332.5 115.6L333.5 115.7L334.5 115.8L335.5 116.0L336.5 116.1L337.5 116.3L338.5 116.5L339.5 116.6L340.5 116.7L341.5 116.9L342.5 117.0L343.5 117.1L344.5 117.1L345.5 117.0L346.5 116.9L347.5 116.8L348.5 116.6L349.5 116.5L350.5 116.3L351.5 116.2L352.5 116.0L353.5 115.9L354.5 115.7L355.5 115.6L356.5 115.5L357.5 115.4L358.5 115.3L359.5 115.4L360.5 115.4L361.5 115.6L362.5 115.7L363.5 115.8L364.5 116.0L365.5 116.1L366.5 116.3L367.5 116.5L368.5 116.6L369.5 116.7L370.5 116.9L371.5 117.0L372.5 117.1L373.5 117.1L374.5 117.0L375.5 116.9L376.5 116.8L377.5 116.6L378.5 116.5L379.5 116.3L380.5 116.2L381.5 116.0L382.5 115.9L383.5 115.7L384.5 115.6L385.5 115.5L386.5 115.4L387.5 115.3L388.5 115.4L389.5 115.4L390.5 115.6L391.5 115.7L392.5 115.8L393.5 116.0L394.5 116.1L395.5 116.3L396.5 116.4L397.5 116.6L398.5 116.7L399.5 116.9L400.5 117.0L401.5 117.1L402.5 117.1L403.5 117.0L404.5 116.9L405.5 116.8L406.5 116.7L407.5 116.5L408.5 116.4L409.5 116.2L410.5 116.0L411.5 115.9L412.5 115.7L413.5 115.6L414.5 115.5L415.5 115.4L416.5 115.3L417.5 115.3L418.5 115.4L419.5 115.5L420.5 115.7L421.5 115.8L422.5 116.0L423.5 116.1L424.5 116.3L425.5 116.4L426.5 116.6L427.5 116.7L428.5 116.8L429.5 117.0L430.5 117.0L431.5 117.1L432.5 117.0L433.5 116.9L434.5 116.8L435.5 116.7L436.5 116.5L437.5 116.4L438.5 116.2L439.5 116.1L440.5 115.9L441.5 115.8L442.5 115.6L443.5 115.5L444.5 115.4L445.5 115.3L446.5 115.3L447.5 115.4L448.5 115.5L449.5 115.6L450.5 115.8L451.5 115.9L452.5 116.1L453.5 116.2L454.5 116.4L455.5 116.6L456.5 116.7L457.5 116.8L458.5 116.9L459.5 117.0L460.5 117.1L461.5 117.0L462.5 116.9L463.5 116.8L464.5 116.7L465.5 116.6L466.5 116.4L467.5 116.2L468.5 116.1L469.5 115.9L470.5 115.8L471.5 115.7L472.5 115.5L473.5 115.4L474.5 115.3L475.5 115.3L476.5 115.4L477.5 115.5L478.5 115.6L479.5 115.8L480.5 115.9L481.5 116.1L482.5 116.2L483.5 116.4L484.5 116.5L485.5 116.7L486.5 116.8L487.5 116.9L488.5 117.0L489.5 117.1L490.5 117.1L491.5 117.0L492.5 116.9L493.5 116.7L494.5 116.6L495.5 116.4L496.5 116.3L497.5 116.1L498.5 116.0L499.5 115.8L500.5 115.7L501.5 115.6L502.5 115.4L503.5 115.4L504.5 115.3L505.5 115.4L506.5 115.5L507.5 115.6L508.5 115.7L509.5 115.9L510.5 116.0L511.5 116.2L512.5 116.3L513.5 116.5L514.5 116.6L515.5 116.8L516.5 116.9L517.5 117.0L518.5 117.1L519.5 117.1L520.5 117.0L521.5 116.9L522.5 116.8L523.5 116.6L524.5 116.5L525.5 116.3L526.5 116.2L527.5 116.0L528.5 115.9L529.5 115.7L530.5 115.6L531.5 115.5L532.5 115.4L533.5 115.3L534.5 115.4L535.5 115.4L536.5 115.5L537.5 115.7L538.5 115.8L539.5 116.0L540.5 116.1L541.5 116.3L542.5 116.4L543.5 116.6L544.5 116.7L545.5 116.8L546.5 117.0L547.5 117.0L548.5 117.1L549.5 117.0L550.5 116.9L551.5 116.8L552.5 116.7L553.5 116.5L554.5 116.4L555.5 116.2L556.5 116.1L557.5 115.9L558.5 115.8L559.5 115.6L560.5 115.5L561.5 115.4L562.5 115.3L563.5 115.3L564.5 115.4L565.5 115.5L566.5 115.6L567.5 115.8L568.5 115.9L569.5 116.1L570.5 116.2L571.5 116.4L572.5 116.5L573.5 116.7L574.5 116.8L575.5 116.9L576.5 117.0L577.5 117.1L578.5 117.1L579.5 117.0L580.5 116.9L581.5 116.7L582.5 116.6L583.5 116.5L584.5 116.3L585.5 116.1L586.5 116.0L587.5 115.8L588.5 115.7L589.5 115.6L590.5 115.5L591.5 115.4L592.5 115.3L593.5 115.4L594.5 115.5L595.5 115.6L596.5 115.7L597.5 115.8L598.5 116.0L599.5 116.1L600.5 116.3L601.5 116.5L602.5 116.6L603.5 116.7L604.5 116.9L605.5 117.0L606.5 117.1L607.5 117.1L608.5 117.0L609.5 116.9L610.5 116.8L611.5 116.7L612.5 116.5L613.5 116.4L614.5 116.2L615.5 116.1L616.5 115.9L617.5 115.8L618.5 115.6L619.5 115.5L620.5 115.4L621.5 115.3L622.5 115.3L623.5 115.4L624.5 115.5L625.5 115.6L626.5 115.8L627.5 115.9L628.5 116.1L629.5 116.2L630.5 116.4L631.5 116.5L632.5 116.7L633.5 116.8L634.5 116.9L635.5 117.0L636.5 117.1L637.5 117.1L638.5 117.0L639.5 116.9L640.5 116.7L641.5 116.6L642.5 116.5L643.5 116.3L644.5 116.2L645.5 116.0L646.5 115.8L647.5 115.7L648.5 115.6L649.5 115.5L650.5 115.4L651.5 115.3L652.5 115.4L653.5 115.5L654.5 115.6L655.5 115.7L656.5 115.8L657.5 116.0L658.5 116.1L659.5 116.3L660.5 116.4L661.5 116.6L662.5 116.7L663.5 116.9L664.5 117.0L665.5 117.0L666.5 117.1L667.5 117.0L668.5 116.9L669.5 116.8L670.5 116.7L671.5 116.5L672.5 116.4L673.5 116.2L674.5 116.1L675.5 115.9L676.5 115.8L677.5 115.7L678.5 115.5L679.5 115.4L680.5 115.3L681.5 115.3L682.5 115.4L683.5 115.5L684.5 115.6L685.5 115.7L686.5 115.9L687.5 116.0L688.5 116.2L689.5 116.4L690.5 116.5L691.5 116.6L692.5 116.8L693.5 116.9L694.5 117.0L695.5 117.1L696.5 117.1L697.5 117.0L698.5 116.9L699.5 116.8L700.5 116.6L701.5 116.5L702.5 116.4L703.5 116.2L704.5 116.0L705.5 115.9L706.5 115.7L707.5 115.6L708.5 115.5L709.5 115.4L710.5 115.3L711.5 115.4L712.5 115.4L713.5 115.5L714.5 115.7L715.5 115.8L716.5 115.9L717.5 116.1L718.5 116.2L719.5 116.4L720.5 116.6L721.5 116.7L722.5 116.8L723.5 116.9L724.5 117.0L725.5 117.1L726.5 117.1L727.5 117.0L728.5 116.9L729.5 116.7L730.5 116.6L731.5 116.5L732.5 116.3L733.5 116.2L734.5 116.0L735.5 115.9L736.5 115.7L737.5 115.6L738.5 115.5L739.5 115.4L740.5 115.3L741.5 115.4L742.5 115.5L743.5 115.6L744.5 115.7L745.5 115.8L746.5 116.0L747.5 116.1L748.5 116.3L749.5 116.5L750.5 116.6L751.5 116.7L752.5 116.9L753.5 117.0L754.5 117.1L755.5 117.1L756.5 117.1L757.5 117.0L758.5 116.9L759.5 116.7L760.5 116.6L761.5 116.4L762.5 116.3L763.5 116.1L764.5 116.0L765.5 115.8L766.5 115.7L767.5 115.6L768.5 115.5L769.5 115.4L770.5 115.3L771.5 115.4L772.5 115.5L773.5 115.6L774.5 115.7L775.5 115.9L776.5 116.0L777.5 116.2L778.5 116.3L779.5 116.5L780.5 116.6L781.5 116.8L782.5 116.9L783.5 117.0L784.5 117.1L785.5 117.1L786.5 117.1L787.5 117.0L788.5 116.8L789.5 116.7L790.5 116.6L791.5 116.4L792.5 116.3L793.5 116.1L794.5 116.0L795.5 115.8L796.5 115.7L797.5 115.6L798.5 115.5L799.5 115.4L800.5 115.4L801.5 115.4L802.5 115.5L803.5 115.7L804.5 115.8L805.5 115.9L806.5 116.1L807.5 116.2L808.5 116.4L809.5 116.5L810.5 116.7L811.5 116.8L812.5 116.9L813.5 117.1L814.5 117.1L815.5 117.2L816.5 117.1L817.5 117.0L818.5 116.9L819.5 116.7L820.5 116.6L821.5 116.4L822.5 116.3L823.5 116.1L824.5 116.0L825.5 115.8L826.5 115.7L827.5 115.6L828.5 115.5L829.5 115.4L830.5 115.4L831.5 115.5L832.5 115.6L833.5 115.7L834.5 115.8L835.5 116.0L836.5 116.1L837.5 116.3L838.5 116.4L839.5 116.6L840.5 116.7L841.5 116.9L842.5 117.0L843.5 117.1L844.5 117.2L845.5 117.2L846.5 117.1L847.5 117.0L848.5 116.9L849.5 116.8L850.5 116.6L851.5 116.5L852.5 116.3L853.5 116.2L854.5 116.0L855.5 115.9L856.5 115.7L857.5 115.6L858.5 115.5L859.5 115.4L860.5 115.4L861.5 115.5L862.5 115.6L863.5 115.7L864.5 115.9L865.5 116.0L866.5 116.2L867.5 116.3L868.5 116.5L869.5 116.7L870.5 116.8L871.5 117.0L872.5 117.1L873.5 117.2L874.5 117.3L875.5 117.3L876.5 117.2L877.5 117.1L878.5 117.0L879.5 116.8L880.5 116.7L881.5 116.6L882.5 116.4L883.5 116.2L884.5 116.1L885.5 115.9L886.5 115.8L887.5 115.7L888.5 115.6L889.5 115.5L890.5 115.5L891.5 115.6L892.5 115.7L893.5 115.8L894.5 116.0L895.5 116.1L896.5 116.3L897.5 116.4L898.5 116.6L899.5 116.8L900.5 116.9L901.5 117.1L902.5 117.2L903.5 117.3L904.5 117.4L905.5 117.4L906.5 117.3L907.5 117.2L908.5 117.1L909.5 117.0L910.5 116.8L911.5 116.7L912.5 116.5L913.5 116.4L914.5 116.2L915.5 116.1L916.5 115.9L917.5 115.8L918.5 115.7L919.5 115.6L920.5 115.6L921.5 115.7L922.5 115.8L923.5 115.9L924.5 116.1L925.5 116.3L926.5 116.4L927.5 116.6L928.5 116.8L929.5 116.9L930.5 117.1L931.5 117.3L932.5 117.4L933.5 117.5L934.5 117.6L935.5 117.6L936.5 117.6L937.5 117.5L938.5 117.3L939.5 117.2L940.5 117.1L941.5 116.9L942.5 116.8L943.5 116.6L944.5 116.4L945.5 116.3L946.5 116.2L947.5 116.0L948.5 115.9L949.5 115.8L950.5 115.8L951.5 115.9L952.5 116.0L953.5 116.1L954.5 116.3L955.5 116.5L956.5 116.7L957.5 116.8L958.5 117.0L959.5 117.2L960.5 117.4L961.5 117.6L962.5 117.7L963.5 117.8L964.5 117.9L965.5 118.0L966.5 117.9L967.5 117.8L968.5 117.7L969.5 117.6L970.5 117.4L971.5 117.3L972.5 117.1L973.5 117.0L974.5 116.8L975.5 116.6L976.5 116.5L977.5 116.4L978.5 116.3L979.5 116.2L980.5 116.1L981.5 116.2L982.5 116.3L983.5 116.5L984.5 116.6L985.5 116.8L986.5 117.0L987.5 117.2L988.5 117.5L989.5 117.7L990.5 117.9L991.5 118.1L992.5 118.2L993.5 118.4L994.5 118.5L995.5 118.6L996.5 118.5L997.5 118.5L998.5 118.3L999.5 118.2L1000.5 118.1L1001.5 117.9L1002.5 117.7L1003.5 117.6L1004.5 117.4L1005.5 117.2L1006.5 117.1L1007.5 116.9L1008.5 116.8L1009.5 116.7L1010.5 116.6L1011.5 116.7L1012.5 116.8L1013.5 117.0L1014.5 117.2L1015.5 117.4L1016.5 117.7L1017.5 117.9L1018.5 118.2L1019.5 118.4L1020.5 118.7L1021.5 118.9L1022.5 119.1L1023.5 119.3L1024.5 119.4L1025.5 119.6L1026.5 119.6L1027.5 119.5L1028.5 119.3L1029.5 119.2L1030.5 119.1L1031.5 118.9L1032.5 118.7L1033.5 118.5L1034.5 118.4L1035.5 118.2L1036.5 118.0L1037.5 117.9L1038.5 117.7L1039.5 117.6L1040.5 117.5L1041.5 117.6L1042.5 117.7L1043.5 117.9L1044.5 118.2L1045.5 118.4L1046.5 118.7L1047.5 119.0L1048.5 119.3L1049.5 119.7L1050.5 120.0L1051.5 120.3L1052.5 120.5L1053.5 120.8L1054.5 121.0L1055.5 121.2L1056.5 121.2L1057.5 121.1L1058.5 121.0L1059.5 120.9L1060.5 120.7L1061.5 120.5L1062.5 120.4L1063.5 120.2L1064.5 120.0L1065.5 119.8L1066.5 119.6L1067.5 119.4L1068.5 119.3L1069.5 119.1L1070.5 119.0L1071.5 119.0L1072.5 119.2L1073.5 119.4L1074.5 119.7L1075.5 120.1L1076.5 120.4L1077.5 120.8L1078.5 121.3L1079.5 121.7L1080.5 122.1L1081.5 122.5L1082.5 122.9L1083.5 123.2L1084.5 123.5L1085.5 123.8L1086.5 124.0L1087.5 123.9L1088.5 123.7L1089.5 123.4L1090.5 123.1L1091.5 122.8L1092.5 122.5L1093.5 122.1L1094.5 121.8L1095.5 121.4L1096.5 121.1L1097.5 120.8L1098.5 120.5L1099.5 120.3L1100.5 120.1L1101.5 120.1L1102.5 120.4L1103.5 120.8L1104.5 121.2L1105.5 121.7L1106.5 122.3L1107.5 122.8L1108.5 123.4L1109.5 124.0L1110.5 124.5L1111.5 125.0L1112.5 125.5L1113.5 125.9L1114.5 126.2L1115.5 126.5L1116.5 126.3L1117.5 125.9L1118.5 125.5L1119.5 125.1L1120.5 124.6L1121.5 124.0L1122.5 123.5L1123.5 123.0L1124.5 122.4L1125.5 121.9L1126.5 121.5L1127.5 121.1L1128.5 120.7L1129.5 120.5L1130.5 120.9L1131.5 121.4L1132.5 122.1L1133.5 122.8L1134.5 123.7L1135.5 124.5L1136.5 125.4L1137.5 126.3L1138.5 127.2L1139.5 128.0L1140.5 128.8L1141.5 129.4L1142.5 130.0L1143.5 130.4L1144.5 130.3L1145.5 130.1L1146.5 129.7L1147.5 129.3L1148.5 128.9L1149.5 128.4L1150.5 127.9L1151.5 127.4L1152.5 126.9L1153.5 126.4L1154.5 126.0L1155.5 125.5L1156.5 125.1L1157.5 124.8L1158.5 124.6L1159.5 124.9L1160.5 125.7L1161.5 126.7L1162.5 127.9L1163.5 129.2L1164.5 130.6L1165.5 132.2L1166.5 133.7L1167.5 135.3L1168.5 136.8L1169.5 138.3L1170.5 139.7L1171.5 141.0L1172.5 142.1L1173.5 143.1L1174.5 143.8L1175.5 143.8L1176.5 143.5L1177.5 143.1L1178.5 142.6L1179.5 142.1L1180.5 141.5L1181.5 140.9L1182.5 140.4L1183.5 139.9L1184.5 139.5L1185.5 139.2L1186.5 139.1L1187.5 139.8L1188.5 140.8L1189.5 141.9L1190.5 143.8L1191.5 147.1L1192.5 150.8L1193.5 154.7L1194.5 158.5L1195.5 162.5L1196.5 166.6L1197.5 170.6L1198.5 174.7L1199.5 178.7L1200.5 182.8L1201.5 186.7L1202.5 190.1L1203.5 193.5L1204.5 196.8L1205.5 199.8L1206.5 202.4L1207.5 204.9L1208.5 207.4L1209.5 210.1L1210.5 213.6L1211.5 217.5L1212.5 221.8L1213.5 226.8L1214.5 233.7L1215.5 241.4L1216.5 249.8L1217.5 259.5L1218.5 270.6L1219.5 286.0L1220.5 307.6L1221.5 331.1L1222.5 355.5L1223.5 380.0L1224.5 405.9L1225.5 432.2L1226.5 458.8L1227.5 485.2L1228.5 511.8L1229.5 538.2L1230.5 564.3L1231.5 589.8L1232.5 609.5L1233.5 626.4L1234.5 643.1L1235.5 659.9L1236.5 671.9L1237.5 678.9L1238.5 682.8L1239.5 682.1L1240.5 677.7L1241.5 670.2L1242.5 656.5L1243.5 639.8L1244.5 623.0L1245.5 606.0L1246.5 584.9L1247.5 559.1L1248.5 532.9L1249.5 506.3L1250.5 479.8L1251.5 454.2L1252.5 428.8L1253.5 403.8L1254.5 380.0L1255.5 359.9L1256.5 340.5L1257.5 321.7L1258.5 303.2L1259.5 285.0L1260.5 267.8L1261.5 251.4L1262.5 238.9L1263.5 228.7L1264.5 223.4L1265.5 220.5L1266.5 217.9L1267.5 215.6L1268.5 213.4L1269.5 211.6L1270.5 209.9L1271.5 208.3L1272.5 206.6L1273.5 204.8L1274.5 202.4L1275.5 199.7L1276.5 196.8L1277.5 193.6L1278.5 190.0L1279.5 183.7L1280.5 176.5L1281.5 169.8L1282.5 163.6L1283.5 158.0L1284.5 154.2L1285.5 150.8L1286.5 148.0L1287.5 146.7L1288.5 145.5L1289.5 144.4L1290.5 143.5L1291.5 142.7L1292.5 142.1L1293.5 142.4L1294.5 143.0L1295.5 143.9L1296.5 144.8L1297.5 145.8L1298.5 146.8L1299.5 147.8L1300.5 148.6L1301.5 149.3L1302.5 149.8L1303.5 149.0L1304.5 148.0L1305.5 146.8L1306.5 145.4L1307.5 143.9L1308.5 142.3L1309.5 140.8L1310.5 139.3L1311.5 137.9L1312.5 136.6L1313.5 135.3L1314.5 133.9L1315.5 132.5L1316.5 131.1L1317.5 129.9L1318.5 128.8L1319.5 127.8L1320.5 127.1L1321.5 127.1L1322.5 127.6L1323.5 128.2L1324.5 128.8L1325.5 129.6L1326.5 130.4L1327.5 131.1L1328.5 131.9L1329.5 132.5L1330.5 133.1L1331.5 133.6L1332.5 133.7L1333.5 133.2L1334.5 132.6L1335.5 131.9L1336.5 131.0L1337.5 130.2L1338.5 129.2L1339.5 128.2L1340.5 127.2L1341.5 126.2L1342.5 125.2L1343.5 124.3L1344.5 123.4L1345.5 122.6L1346.5 121.9L1347.5 121.3L1348.5 120.8L1349.5 121.0L1350.5 121.3L1351.5 121.6L1352.5 122.0L1353.5 122.4L1354.5 122.9L1355.5 123.3L1356.5 123.8L1357.5 124.2L1358.5 124.6L1359.5 124.9L1360.5 125.2L1361.5 125.4L1362.5 125.2L1363.5 124.9L1364.5 124.5L1365.5 124.1L1366.5 123.7L1367.5 123.2L1368.5 122.7L1369.5 122.1L1370.5 121.6L1371.5 121.1L1372.5 120.6L1373.5 120.1L1374.5 119.7L1375.5 119.3L1376.5 119.0L1377.5 118.7L1378.5 118.7L1379.5 118.9L1380.5 119.1L1381.5 119.4L1382.5 119.7L1383.5 120.0L1384.5 120.4L1385.5 120.7L1386.5 121.1L1387.5 121.4L1388.5 121.7L1389.5 122.0L1390.5 122.2L1391.5 122.4L1392.5 122.4L1393.5 122.2L1394.5 121.9L1395.5 121.5L1396.5 121.1L1397.5 120.7L1398.5 120.2L1399.5 119.8L1400.5 119.3L1401.5 118.9L1402.5 118.5L1403.5 118.1L1404.5 117.7L1405.5 117.4L1406.5 117.2L1407.5 117.3L1408.5 117.5L1409.5 117.7L1410.5 118.0L1411.5 118.3L1412.5 118.6L1413.5 118.9L1414.5 119.2L1415.5 119.6L1416.5 119.9L1417.5 120.2L1418.5 120.5L1419.5 120.7L1420.5 121.0L1421.5 121.1L1422.5 121.2L1423.5 121.0L1424.5 120.8L1425.5 120.5L1426.5 120.3L1427.5 119.9L1428.5 119.6L1429.5 119.2L1430.5 118.9L1431.5 118.5L1432.5 118.2L1433.5 117.9L1434.5 117.6L1435.5 117.3L1436.5 117.1L1437.5 116.9L1438.5 117.0L1439.5 117.1L1440.5 117.3L1441.5 117.5L1442.5 117.8L1443.5 118.0L1444.5 118.3L1445.5 118.6L1446.5 118.9L1447.5 119.1L1448.5 119.4L1449.5 119.6L1450.5 119.9L1451.5 120.0L1452.5 120.2L1453.5 120.3L1454.5 120.1L1455.5 120.0L1456.5 119.7L1457.5 119.5L1458.5 119.2L1459.5 118.9L1460.5 118.7L1461.5 118.4L1462.5 118.1L1463.5 117.8L1464.5 117.5L1465.5 117.3L1466.5 117.0L1467.5 116.9L1468.5 116.7L1469.5 116.7L1470.5 116.9L1471.5 117.0L1472.5 117.2L1473.5 117.4L1474.5 117.6L1475.5 117.8L1476.5 118.1L1477.5 118.3L1478.5 118.5L1479.5 118.8L1480.5 119.0L1481.5 119.2L1482.5 119.3L1483.5 119.5L1484.5 119.6L1485.5 119.4L1486.5 119.3L1487.5 119.1L1488.5 118.9L1489.5 118.7L1490.5 118.5L1491.5 118.2L1492.5 118.0L1493.5 117.7L1494.5 117.5L1495.5 117.2L1496.5 117.0L1497.5 116.8L1498.5 116.7L1499.5 116.6L1500.5 116.5L1501.5 116.6L1502.5 116.8L1503.5 116.9L1504.5 117.1L1505.5 117.3L1506.5 117.5L1507.5 117.7L1508.5 117.9L1509.5 118.1L1510.5 118.3L1511.5 118.5L1512.5 118.6L1513.5 118.8L1514.5 118.9L1515.5 119.0L1516.5 118.9L1517.5 118.8L1518.5 118.7L1519.5 118.5L1520.5 118.3L1521.5 118.1L1522.5 117.9L1523.5 117.7L1524.5 117.5L1525.5 117.2L1526.5 117.0L1527.5 116.9L1528.5 116.7L1529.5 116.5L1530.5 116.4L1531.5 116.4L1532.5 116.5L1533.5 116.6L1534.5 116.7L1535.5 116.8L1536.5 117.0L1537.5 117.2L1538.5 117.4L1539.5 117.5L1540.5 117.7L1541.5 117.9L1542.5 118.0L1543.5 118.2L1544.5 118.3L1545.5 118.4L1546.5 118.5L1547.5 118.5L1548.5 118.4L1549.5 118.3L1550.5 118.2L1551.5 118.0L1552.5 117.8L1553.5 117.6L1554.5 117.5L1555.5 117.3L1556.5 117.1L1557.5 116.9L1558.5 116.7L1559.5 116.6L1560.5 116.5L1561.5 116.3L1562.5 116.3L1563.5 116.3L1564.5 116.4L1565.5 116.5L1566.5 116.6L1567.5 116.8L1568.5 116.9L1569.5 117.1L1570.5 117.3L1571.5 117.4L1572.5 117.6L1573.5 117.7L1574.5 117.9L1575.5 118.0L1576.5 118.1L1577.5 118.2L1578.5 118.2L1579.5 118.1L1580.5 118.0L1581.5 117.9L1582.5 117.8L1583.5 117.6L1584.5 117.5L1585.5 117.3L1586.5 117.1L1587.5 117.0L1588.5 116.8L1589.5 116.7L1590.5 116.5L1591.5 116.4L1592.5 116.3L1593.5 116.2L1594.5 116.2L1595.5 116.3L1596.5 116.4L1597.5 116.5L1598.5 116.6L1599.5 116.7L1600.5 116.9L1601.5 117.0L1602.5 117.2L1603.5 117.3L1604.5 117.5L1605.5 117.6L1606.5 117.7L1607.5 117.8L1608.5 117.9L1609.5 118.0L1610.5 117.9L1611.5 117.8L1612.5 117.7L1613.5 117.6L1614.5 117.5L1615.5 117.3L1616.5 117.2L1617.5 117.0L1618.5 116.9L1619.5 116.7L1620.5 116.6L1621.5 116.5L1622.5 116.4L1623.5 116.2L1624.5 116.2L1625.5 116.1L1626.5 116.2L1627.5 116.3L1628.5 116.4L1629.5 116.5L1630.5 116.6L1631.5 116.7L1632.5 116.8L1633.5 117.0L1634.5 117.1L1635.5 117.2L1636.5 117.4L1637.5 117.5L1638.5 117.6L1639.5 117.7L1640.5 117.7L1641.5 117.7L1642.5 117.7L1643.5 117.6L1644.5 117.5L1645.5 117.4L1646.5 117.2L1647.5 117.1L1648.5 117.0L1649.5 116.8L1650.5 116.7L1651.5 116.6L1652.5 116.4L1653.5 116.3L1654.5 116.2L1655.5 116.1L1656.5 116.1L1657.5 116.1L1658.5 116.2L1659.5 116.2L1660.5 116.3L1661.5 116.4L1662.5 116.6L1663.5 116.7L1664.5 116.8L1665.5 116.9L1666.5 117.1L1667.5 117.2L1668.5 117.3L1669.5 117.4L1670.5 117.5L1671.5 117.6L1672.5 117.6L1673.5 117.6L1674.5 117.5L1675.5 117.4L1676.5 117.3L1677.5 117.2L1678.5 117.1L1679.5 116.9L1680.5 116.8L1681.5 116.7L1682.5 116.6L1683.5 116.4L1684.5 116.3L1685.5 116.2L1686.5 116.1L1687.5 116.1L1688.5 116.0L1689.5 116.1L1690.5 116.2L1691.5 116.2L1692.5 116.3L1693.5 116.4L1694.5 116.5L1695.5 116.7L1696.5 116.8L1697.5 116.9L1698.5 117.0L1699.5 117.1L1700.5 117.2L1701.5 117.3L1702.5 117.4L1703.5 117.5L1704.5 117.5L1705.5 117.4L1706.5 117.3L1707.5 117.3L1708.5 117.2L1709.5 117.1L1710.5 116.9L1711.5 116.8L1712.5 116.7L1713.5 116.6L1714.5 116.5L1715.5 116.4L1716.5 116.2L1717.5 116.2L1718.5 116.1L1719.5 116.0L1720.5 116.0L1721.5 116.1L1722.5 116.1L1723.5 116.2L1724.5 116.3L1725.5 116.4L1726.5 116.5L1727.5 116.7L1728.5 116.8L1729.5 116.9L1730.5 117.0L1731.5 117.1L1732.5 117.2L1733.5 117.3L1734.5 117.3L1735.5 117.4L1736.5 117.4L1737.5 117.3L1738.5 117.2L1739.5 117.1L1740.5 117.0L1741.5 116.9L1742.5 116.8L1743.5 116.7L1744.5 116.6L1745.5 116.5L1746.5 116.4L1747.5 116.3L1748.5 116.2L1749.5 116.1L1750.5 116.0L1751.5 116.0L1752.5 116.0L1753.5 116.1L1754.5 116.1L1755.5 116.2L1756.5 116.3L1757.5 116.4L1758.5 116.5L1759.5 116.6L1760.5 116.8L1761.5 116.9L1762.5 117.0L1763.5 117.1L1764.5 117.1L1765.5 117.2L1766.5 117.3L1767.5 117.3L1768.5 117.3L1769.5 117.2L1770.5 117.1L1771.5 117.1L1772.5 117.0L1773.5 116.9L1774.5 116.8L1775.5 116.6L1776.5 116.5L1777.5 116.4L1778.5 116.3L1779.5 116.2L1780.5 116.1L1781.5 116.1L1782.5 116.0L1783.5 116.0L1784.5 116.0L1785.5 116.1L1786.5 116.1L1787.5 116.2L1788.5 116.3L1789.5 116.4L1790.5 116.5L1791.5 116.6L1792.5 116.7L1793.5 116.8L1794.5 116.9L1795.5 117.0L1796.5 117.1L1797.5 117.2L1798.5 117.2L1799.5 117.3L1800.5 117.2L1801.5 117.2L1802.5 117.1L1803.5 117.0L1804.5 116.9L1805.5 116.8L1806.5 116.7L1807.5 116.6L1808.5 116.5L1809.5 116.4L1810.5 116.3L1811.5 116.2L1812.5 116.1L1813.5 116.0L1814.5 116.0L1815.5 116.0L1816.5 116.0L1817.5 116.1L1818.5 116.1L1819.5 116.2L1820.5 116.3L1821.5 116.4L1822.5 116.5L1823.5 116.6L1824.5 116.7L1825.5 116.8L1826.5 116.9L1827.5 117.0L1828.5 117.1L1829.5 117.2L1830.5 117.2L1831.5 117.2L1832.5 117.2L1833.5 117.1L1834.5 117.0L1835.5 116.9L1836.5 116.8L1837.5 116.7L1838.5 116.6L1839.5 116.5L1840.5 116.4L1841.5 116.3L1842.5 116.2L1843.5 116.2L1844.5 116.1L1845.5 116.0L1846.5 116.0L1847.5 116.0L1848.5 116.0L1849.5 116.1L1850.5 116.1L1851.5 116.2L1852.5 116.3L1853.5 116.4L1854.5 116.5L1855.5 116.6L1856.5 116.7L1857.5 116.8L1858.5 116.9L1859.5 117.0L1860.5 117.1L1861.5 117.1L1862.5 117.2L1863.5 117.2L1864.5 117.1L1865.5 117.1L1866.5 117.0L1867.5 116.9L1868.5 116.8L1869.5 116.7L1870.5 116.6L1871.5 116.5L1872.5 116.4L1873.5 116.3L1874.5 116.2L1875.5 116.1L1876.5 116.1L1877.5 116.0L1878.5 115.9L1879.5 115.9L1880.5 116.0L1881.5 116.1L1882.5 116.1L1883.5 116.2L1884.5 116.3L1885.5 116.4L1886.5 116.5L1887.5 116.6L1888.5 116.7L1889.5 116.8L1890.5 116.9L1891.5 117.0L1892.5 117.1L1893.5 117.1L1894.5 117.2L1895.5 117.2L1896.5 117.1L1897.5 117.0L1898.5 117.0L1899.5 116.9L1900.5 116.8L1901.5 116.7L1902.5 116.6L1903.5 116.5L1904.5 116.4L1905.5 116.3L1906.5 116.2L1907.5 116.1L1908.5 116.0L1909.5 116.0L1910.5 115.9L1911.5 115.9L1912.5 116.0L1913.5 116.1L1914.5 116.1L1915.5 116.2L1916.5 116.3L1917.5 116.4L1918.5 116.5L1919.5 116.6L1920.5 116.7L1921.5 116.8L1922.5 116.9L1923.5 117.0L1924.5 117.0L1925.5 117.1L1926.5 117.1L1927.5 117.1L1928.5 117.1L1929.5 117.0L1930.5 117.0L1931.5 116.9L1932.5 116.8L1933.5 116.7L1934.5 116.6L1935.5 116.5L1936.5 116.4L1937.5 116.3L1938.5 116.2L1939.5 116.1L1940.5 116.0L1941.5 116.0L1942.5 115.9L1943.5 115.9L1944.5 116.0L1945.5 116.0L1946.5 116.1L1947.5 116.2L1948.5 116.3L1949.5 116.4L1950.5 116.5L1951.5 116.6L1952.5 116.7L1953.5 116.8L1954.5 116.9L1955.5 116.9L1956.5 117.0L1957.5 117.1L1958.5 117.1L1959.5 117.1L1960.5 117.1L1961.5 117.0L1962.5 116.9L1963.5 116.9L1964.5 116.8L1965.5 116.7L1966.5 116.6L1967.5 116.5L1968.5 116.4L1969.5 116.3L1970.5 116.2L1971.5 116.1L1972.5 116.0L1973.5 116.0L1974.5 115.9L1975.5 115.9L1976.5 116.0L1977.5 116.0L1978.5 116.1L1979.5 116.2L1980.5 116.3L1981.5 116.4L1982.5 116.5L1983.5 116.6L1984.5 116.7L1985.5 116.7L1986.5 116.8L1987.5 116.9L1988.5 117.0L1989.5 117.1L1990.5 117.1L1991.5 117.1L1992.5 117.1L1993.5 117.0L1994.5 117.0L1995.5 116.9L1996.5 116.9L1997.5 116.8L1998.5 116.7L1999.5 116.7L2000.5 116.6L2001.5 116.5L2002.5 116.4"/>
<path stroke="#EDB120" d="M260.5 116.8L261.5 116.9L262.5 117.0L263.5 117.1L264.5 117.1L265.5 117.0L266.5 116.9L267.5 116.8L268.5 116.6L269.5 116.5L270.5 116.3L271.5 116.2L272.5 116.0L273.5 115.8L274.5 115.7L275.5 115.6L276.5 115.5L277.5 115.4L278.5 115.3L279.5 115.4L280.5 115.5L281.5 115.6L282.5 115.7L283.5 115.9L284.5 116.0L285.5 116.2L286.5 116.3L287.5 116.5L288.5 116.6L289.5 116.8L290.5 116.9L291.5 117.0L292.5 117.1L293.5 117.1L294.5 117.0L295.5 116.9L296.5 116.7L297.5 116.6L298.5 116.4L299.5 116.3L300.5 116.1L301.5 116.0L302.5 115.8L303.5 115.7L304.5 115.6L305.5 115.4L306.5 115.4L307.5 115.3L308.5 115.4L309.5 115.5L310.5 115.6L311.5 115.7L312.5 115.9L313.5 116.0L314.5 116.2L315.5 116.4L316.5 116.5L317.5 116.7L318.5 116.8L319.5 116.9L320.5 117.0L321.5 117.1L322.5 117.1L323.5 117.0L324.5 116.9L325.5 116.7L326.5 116.6L327.5 116.4L328.5 116.3L329.5 116.1L330.5 116.0L331.5 115.8L332.5 115.7L333.5 115.5L334.5 115.4L335.5 115.3L336.5 115.3L337.5 115.4L338.5 115.5L339.5 115.6L340.5 115.7L341.5 115.9L342.5 116.0L343.5 116.2L344.5 116.4L345.5 116.5L346.5 116.7L347.5 116.8L348.5 116.9L349.5 117.0L350.5 117.1L351.5 117.0L352.5 117.0L353.5 116.8L354.5 116.7L355.5 116.6L356.5 116.4L357.5 116.3L358.5 116.1L359.5 116.0L360.5 115.8L361.5 115.7L362.5 115.5L363.5 115.4L364.5 115.3L365.5 115.3L366.5 115.4L367.5 115.5L368.5 115.6L369.5 115.7L370.5 115.9L371.5 116.0L372.5 116.2L373.5 116.4L374.5 116.5L375.5 116.7L376.5 116.8L377.5 116.9L378.5 117.0L379.5 117.1L380.5 117.0L381.5 117.0L382.5 116.9L383.5 116.7L384.5 116.6L385.5 116.4L386.5 116.3L387.5 116.1L388.5 116.0L389.5 115.8L390.5 115.7L391.5 115.5L392.5 115.4L393.5 115.4L394.5 115.3L395.5 115.4L396.5 115.5L397.5 115.6L398.5 115.7L399.5 115.9L400.5 116.0L401.5 116.2L402.5 116.4L403.5 116.5L404.5 116.7L405.5 116.8L406.5 116.9L407.5 117.0L408.5 117.1L409.5 117.1L410.5 117.0L411.5 116.9L412.5 116.7L413.5 116.6L414.5 116.4L415.5 116.3L416.5 116.1L417.5 116.0L418.5 115.8L419.5 115.7L420.5 115.6L421.5 115.4L422.5 115.4L423.5 115.3L424.5 115.4L425.5 115.5L426.5 115.6L427.5 115.7L428.5 115.9L429.5 116.0L430.5 116.2L431.5 116.3L432.5 116.5L433.5 116.6L434.5 116.8L435.5 116.9L436.5 117.0L437.5 117.1L438.5 117.1L439.5 117.0L440.5 116.9L441.5 116.8L442.5 116.6L443.5 116.5L444.5 116.3L445.5 116.2L446.5 116.0L447.5 115.9L448.5 115.7L449.5 115.6L450.5 115.5L451.5 115.4L452.5 115.3L453.5 115.4L454.5 115.5L455.5 115.6L456.5 115.7L457.5 115.8L458.5 116.0L459.5 116.1L460.5 116.3L461.5 116.5L462.5 116.6L463.5 116.7L464.5 116.9L465.5 117.0L466.5 117.1L467.5 117.1L468.5 117.0L469.5 116.9L470.5 116.8L471.5 116.6L472.5 116.5L473.5 116.3L474.5 116.2L475.5 116.0L476.5 115.9L477.5 115.7L478.5 115.6L479.5 115.5L480.5 115.4L481.5 115.3L482.5 115.3L483.5 115.4L484.5 115.5L485.5 115.7L486.5 115.8L487.5 116.0L488.5 116.1L489.5 116.3L490.5 116.4L491.5 116.6L492.5 116.7L493.5 116.8L494.5 117.0L495.5 117.0L496.5 117.1L497.5 117.0L498.5 116.9L499.5 116.8L500.5 116.7L501.5 116.5L502.5 116.4L503.5 116.2L504.5 116.1L505.5 115.9L506.5 115.8L507.5 115.6L508.5 115.5L509.5 115.4L510.5 115.3L511.5 115.3L512.5 115.4L513.5 115.5L514.5 115.6L515.5 115.8L516.5 115.9L517.5 116.1L518.5 116.2L519.5 116.4L520.5 116.5L521.5 116.7L522.5 116.8L523.5 116.9L524.5 117.0L525.5 117.1L526.5 117.0L527.5 117.0L528.5 116.8L529.5 116.7L530.5 116.6L531.5 116.4L532.5 116.3L533.5 116.1L534.5 116.0L535.5 115.8L536.5 115.7L537.5 115.6L538.5 115.4L539.5 115.4L540.5 115.3L541.5 115.4L542.5 115.5L543.5 115.6L544.5 115.7L545.5 115.9L546.5 116.0L547.5 116.2L548.5 116.3L549.5 116.5L550.5 116.6L551.5 116.8L552.5 116.9L553.5 117.0L554.5 117.1L555.5 117.1L556.5 117.0L557.5 116.9L558.5 116.8L559.5 116.6L560.5 116.5L561.5 116.3L562.5 116.2L563.5 116.0L564.5 115.9L565.5 115.7L566.5 115.6L567.5 115.5L568.5 115.4L569.5 115.3L570.5 115.3L571.5 115.4L572.5 115.5L573.5 115.7L574.5 115.8L575.5 116.0L576.5 116.1L577.5 116.3L578.5 116.4L579.5 116.6L580.5 116.7L581.5 116.8L582.5 116.9L583.5 117.0L584.5 117.1L585.5 117.0L586.5 116.9L587.5 116.8L588.5 116.7L589.5 116.6L590.5 116.4L591.5 116.3L592.5 116.1L593.5 115.9L594.5 115.8L595.5 115.7L596.5 115.5L597.5 115.4L598.5 115.3L599.5 115.3L600.5 115.4L601.5 115.5L602.5 115.6L603.5 115.7L604.5 115.9L605.5 116.0L606.5 116.2L607.5 116.3L608.5 116.5L609.5 116.6L610.5 116.8L611.5 116.9L612.5 117.0L613.5 117.1L614.5 117.1L615.5 117.0L616.5 116.9L617.5 116.8L618.5 116.6L619.5 116.5L620.5 116.3L621.5 116.2L622.5 116.0L623.5 115.9L624.5 115.7L625.5 115.6L626.5 115.5L627.5 115.4L628.5 115.3L629.5 115.4L630.5 115.4L631.5 115.5L632.5 115.7L633.5 115.8L634.5 116.0L635.5 116.1L636.5 116.3L637.5 116.4L638.5 116.6L639.5 116.7L640.5 116.8L641.5 116.9L642.5 117.0L643.5 117.1L644.5 117.0L645.5 116.9L646.5 116.8L647.5 116.7L648.5 116.6L649.5 116.4L650.5 116.3L651.5 116.1L652.5 116.0L653.5 115.8L654.5 115.7L655.5 115.5L656.5 115.4L657.5 115.4L658.5 115.3L659.5 115.4L660.5 115.5L661.5 115.6L662.5 115.7L663.5 115.9L664.5 116.0L665.5 116.2L666.5 116.3L667.5 116.5L668.5 116.6L669.5 116.8L670.5 116.9L671.5 117.0L672.5 117.1L673.5 117.1L674.5 117.0L675.5 116.9L676.5 116.8L677.5 116.7L678.5 116.5L679.5 116.4L680.5 116.2L681.5 116.0L682.5 115.9L683.5 115.8L684.5 115.6L685.5 115.5L686.5 115.4L687.5 115.3L688.5 115.3L689.5 115.4L690.5 115.5L691.5 115.7L692.5 115.8L693.5 115.9L694.5 116.1L695.5 116.2L696.5 116.4L697.5 116.5L698.5 116.7L699.5 116.8L700.5 116.9L701.5 117.0L702.5 117.1L703.5 117.1L704.5 117.0L705.5 116.9L706.5 116.7L707.5 116.6L708.5 116.5L709.5 116.3L710.5 116.2L711.5 116.0L712.5 115.9L713.5 115.7L714.5 115.6L715.5 115.5L716.5 115.4L717.5 115.3L718.5 115.4L719.5 115.5L720.5 115.6L721.5 115.7L722.5 115.8L723.5 116.0L724.5 116.1L725.5 116.3L726.5 116.4L727.5 116.6L728.5 116.7L729.5 116.9L730.5 117.0L731.5 117.1L732.5 117.1L733.5 117.0L734.5 116.9L735.5 116.8L736.5 116.7L737.5 116.6L738.5 116.4L739.5 116.3L740.5 116.1L741.5 116.0L742.5 115.8L743.5 115.7L744.5 115.6L745.5 115.5L746.5 115.4L747.5 115.3L748.5 115.4L749.5 115.5L750.5 115.6L751.5 115.7L752.5 115.9L753.5 116.0L754.5 116.2L755.5 116.3L756.5 116.5L757.5 116.6L758.5 116.8L759.5 116.9L760.5 117.0L761.5 117.1L762.5 117.1L763.5 117.0L764.5 116.9L765.5 116.8L766.5 116.7L767.5 116.5L768.5 116.4L769.5 116.2L770.5 116.1L771.5 115.9L772.5 115.8L773.5 115.7L774.5 115.5L775.5 115.4L776.5 115.4L777.5 115.3L778.5 115.4L779.5 115.5L780.5 115.6L781.5 115.8L782.5 115.9L783.5 116.1L784.5 116.2L785.5 116.4L786.5 116.5L787.5 116.7L788.5 116.8L789.5 116.9L790.5 117.0L791.5 117.1L792.5 117.1L793.5 117.0L794.5 116.9L795.5 116.8L796.5 116.7L797.5 116.5L798.5 116.4L799.5 116.2L800.5 116.1L801.5 115.9L802.5 115.8L803.5 115.7L804.5 115.5L805.5 115.4L806.5 115.4L807.5 115.4L808.5 115.4L809.5 115.6L810.5 115.7L811.5 115.8L812.5 116.0L813.5 116.1L814.5 116.3L815.5 116.4L816.5 116.6L817.5 116.7L818.5 116.8L819.5 117.0L820.5 117.1L821.5 117.1L822.5 117.1L823.5 117.0L824.5 116.9L825.5 116.8L826.5 116.7L827.5 116.5L828.5 116.4L829.5 116.2L830.5 116.1L831.5 115.9L832.5 115.8L833.5 115.7L834.5 115.5L835.5 115.5L836.5 115.4L837.5 115.4L838.5 115.5L839.5 115.6L840.5 115.7L841.5 115.8L842.5 116.0L843.5 116.1L844.5 116.3L845.5 116.5L846.5 116.6L847.5 116.8L848.5 116.9L849.5 117.0L850.5 117.1L851.5 117.2L852.5 117.2L853.5 117.1L854.5 117.0L855.5 116.9L856.5 116.7L857.5 116.6L858.5 116.4L859.5 116.3L860.5 116.1L861.5 116.0L862.5 115.8L863.5 115.7L864.5 115.6L865.5 115.5L866.5 115.4L867.5 115.4L868.5 115.5L869.5 115.6L870.5 115.7L871.5 115.9L872.5 116.0L873.5 116.2L874.5 116.4L875.5 116.5L876.5 116.7L877.5 116.8L878.5 116.9L879.5 117.1L880.5 117.2L881.5 117.2L882.5 117.2L883.5 117.1L884.5 117.0L885.5 116.9L886.5 116.8L887.5 116.6L888.5 116.5L889.5 116.3L890.5 116.2L891.5 116.0L892.5 115.9L893.5 115.8L894.5 115.6L895.5 115.5L896.5 115.5L897.5 115.5L898.5 115.6L899.5 115.7L900.5 115.8L901.5 116.0L902.5 116.1L903.5 116.3L904.5 116.4L905.5 116.6L906.5 116.8L907.5 116.9L908.5 117.0L909.5 117.2L910.5 117.3L911.5 117.4L912.5 117.3L913.5 117.3L914.5 117.2L915.5 117.0L916.5 116.9L917.5 116.8L918.5 116.6L919.5 116.4L920.5 116.3L921.5 116.1L922.5 116.0L923.5 115.9L924.5 115.7L925.5 115.6L926.5 115.6L927.5 115.6L928.5 115.7L929.5 115.8L930.5 115.9L931.5 116.1L932.5 116.2L933.5 116.4L934.5 116.6L935.5 116.7L936.5 116.9L937.5 117.0L938.5 117.2L939.5 117.3L940.5 117.4L941.5 117.5L942.5 117.5L943.5 117.4L944.5 117.3L945.5 117.2L946.5 117.1L947.5 116.9L948.5 116.8L949.5 116.6L950.5 116.5L951.5 116.3L952.5 116.2L953.5 116.0L954.5 115.9L955.5 115.8L956.5 115.7L957.5 115.7L958.5 115.8L959.5 115.9L960.5 116.1L961.5 116.2L962.5 116.4L963.5 116.6L964.5 116.8L965.5 116.9L966.5 117.1L967.5 117.3L968.5 117.4L969.5 117.6L970.5 117.7L971.5 117.8L972.5 117.8L973.5 117.8L974.5 117.7L975.5 117.5L976.5 117.4L977.5 117.3L978.5 117.1L979.5 117.0L980.5 116.8L981.5 116.6L982.5 116.5L983.5 116.3L984.5 116.2L985.5 116.1L986.5 116.0L987.5 116.0L988.5 116.1L989.5 116.2L990.5 116.3L991.5 116.5L992.5 116.7L993.5 116.9L994.5 117.1L995.5 117.3L996.5 117.5L997.5 117.7L998.5 117.8L999.5 118.0L1000.5 118.2L1001.5 118.3L1002.5 118.3L1003.5 118.3L1004.5 118.2L1005.5 118.1L1006.5 117.9L1007.5 117.8L1008.5 117.6L1009.5 117.5L1010.5 117.3L1011.5 117.1L1012.5 117.0L1013.5 116.8L1014.5 116.7L1015.5 116.6L1016.5 116.5L1017.5 116.4L1018.5 116.5L1019.5 116.6L1020.5 116.8L1021.5 117.0L1022.5 117.2L1023.5 117.4L1024.5 117.6L1025.5 117.9L1026.5 118.1L1027.5 118.3L1028.5 118.5L1029.5 118.7L1030.5 118.9L1031.5 119.0L1032.5 119.2L1033.5 119.1L1034.5 119.0L1035.5 118.9L1036.5 118.8L1037.5 118.6L1038.5 118.5L1039.5 118.3L1040.5 118.1L1041.5 117.9L1042.5 117.8L1043.5 117.6L1044.5 117.5L1045.5 117.3L1046.5 117.2L1047.5 117.2L1048.5 117.2L1049.5 117.3L1050.5 117.5L1051.5 117.8L1052.5 118.0L1053.5 118.3L1054.5 118.5L1055.5 118.8L1056.5 119.1L1057.5 119.4L1058.5 119.7L1059.5 119.9L1060.5 120.1L1061.5 120.3L1062.5 120.5L1063.5 120.5L1064.5 120.4L1065.5 120.3L1066.5 120.2L1067.5 120.0L1068.5 119.8L1069.5 119.6L1070.5 119.5L1071.5 119.3L1072.5 119.1L1073.5 118.9L1074.5 118.8L1075.5 118.6L1076.5 118.5L1077.5 118.4L1078.5 118.4L1079.5 118.5L1080.5 118.7L1081.5 119.0L1082.5 119.3L1083.5 119.6L1084.5 119.9L1085.5 120.3L1086.5 120.6L1087.5 121.0L1088.5 121.3L1089.5 121.6L1090.5 121.9L1091.5 122.1L1092.5 122.3L1093.5 122.5L1094.5 122.4L1095.5 122.2L1096.5 122.0L1097.5 121.7L1098.5 121.4L1099.5 121.1L1100.5 120.8L1101.5 120.5L1102.5 120.2L1103.5 119.9L1104.5 119.7L1105.5 119.4L1106.5 119.2L1107.5 119.1L1108.5 119.1L1109.5 119.3L1110.5 119.6L1111.5 119.9L1112.5 120.3L1113.5 120.7L1114.5 121.1L1115.5 121.6L1116.5 122.0L1117.5 122.4L1118.5 122.9L1119.5 123.2L1120.5 123.6L1121.5 123.9L1122.5 124.1L1123.5 124.1L1124.5 123.9L1125.5 123.6L1126.5 123.3L1127.5 122.9L1128.5 122.5L1129.5 122.1L1130.5 121.6L1131.5 121.2L1132.5 120.7L1133.5 120.3L1134.5 119.9L1135.5 119.6L1136.5 119.3L1137.5 119.1L1138.5 119.1L1139.5 119.5L1140.5 119.9L1141.5 120.4L1142.5 120.9L1143.5 121.5L1144.5 122.2L1145.5 122.8L1146.5 123.5L1147.5 124.1L1148.5 124.7L1149.5 125.2L1150.5 125.7L1151.5 126.1L1152.5 126.4L1153.5 126.3L1154.5 126.0L1155.5 125.6L1156.5 125.2L1157.5 124.6L1158.5 124.1L1159.5 123.5L1160.5 122.9L1161.5 122.4L1162.5 121.8L1163.5 121.2L1164.5 120.7L1165.5 120.3L1166.5 119.9L1167.5 119.6L1168.5 119.7L1169.5 120.3L1170.5 121.0L1171.5 121.8L1172.5 122.8L1173.5 123.8L1174.5 124.8L1175.5 125.9L1176.5 127.1L1177.5 128.2L1178.5 129.2L1179.5 130.2L1180.5 131.2L1181.5 132.0L1182.5 132.7L1183.5 133.3L1184.5 133.4L1185.5 133.0L1186.5 132.6L1187.5 132.0L1188.5 131.5L1189.5 130.8L1190.5 130.2L1191.5 129.5L1192.5 128.9L1193.5 128.2L1194.5 127.7L1195.5 127.2L1196.5 126.8L1197.5 126.5L1198.5 127.4L1199.5 128.8L1200.5 130.4L1201.5 132.2L1202.5 134.0L1203.5 135.9L1204.5 137.6L1205.5 139.4L1206.5 141.2L1207.5 143.1L1208.5 144.9L1209.5 146.6L1210.5 148.1L1211.5 149.0L1212.5 149.8L1213.5 150.7L1214.5 151.4L1215.5 152.0L1216.5 152.4L1217.5 152.3L1218.5 151.9L1219.5 151.4L1220.5 150.8L1221.5 150.2L1222.5 149.5L1223.5 148.9L1224.5 148.2L1225.5 147.7L1226.5 147.2L1227.5 146.8L1228.5 147.5L1229.5 149.8L1230.5 152.8L1231.5 156.0L1232.5 159.3L1233.5 162.8L1234.5 166.6L1235.5 170.6L1236.5 175.3L1237.5 180.4L1238.5 185.3L1239.5 189.8L1240.5 194.0L1241.5 198.2L1242.5 202.1L1243.5 206.0L1244.5 209.8L1245.5 213.5L1246.5 217.0L1247.5 219.9L1248.5 222.4L1249.5 224.8L1250.5 227.2L1251.5 229.7L1252.5 232.6L1253.5 237.0L1254.5 242.0L1255.5 247.8L1256.5 257.5L1257.5 268.0L1258.5 278.9L1259.5 294.9L1260.5 317.4L1261.5 342.1L1262.5 367.5L1263.5 393.2L1264.5 420.5L1265.5 447.9L1266.5 474.5L1267.5 497.9L1268.5 520.4L1269.5 543.9L1270.5 570.0L1271.5 611.6L1272.5 651.4L1273.5 679.2L1274.5 702.2L1275.5 720.5L1276.5 738.4L1277.5 756.5L1278.5 769.3L1279.5 776.5L1280.5 780.4L1281.5 778.2L1282.5 772.6L1283.5 763.2L1284.5 745.5L1285.5 727.7L1286.5 709.6L1287.5 689.4L1288.5 662.1L1289.5 635.0L1290.5 608.9L1291.5 583.0L1292.5 557.0L1293.5 530.9L1294.5 504.9L1295.5 479.4L1296.5 456.2L1297.5 434.4L1298.5 412.8L1299.5 391.1L1300.5 368.1L1301.5 343.0L1302.5 318.0L1303.5 295.1L1304.5 278.4L1305.5 266.1L1306.5 255.8L1307.5 250.0L1308.5 245.7L1309.5 241.8L1310.5 238.1L1311.5 234.5L1312.5 230.9L1313.5 227.5L1314.5 224.2L1315.5 220.9L1316.5 217.5L1317.5 214.0L1318.5 209.8L1319.5 205.3L1320.5 201.0L1321.5 197.5L1322.5 194.6L1323.5 190.9L1324.5 186.4L1325.5 181.6L1326.5 176.7L1327.5 171.3L1328.5 166.1L1329.5 162.2L1330.5 159.2L1331.5 156.6L1332.5 154.8L1333.5 153.9L1334.5 153.2L1335.5 152.5L1336.5 152.1L1337.5 152.3L1338.5 152.7L1339.5 153.3L1340.5 154.0L1341.5 154.7L1342.5 155.4L1343.5 156.0L1344.5 156.4L1345.5 156.3L1346.5 155.5L1347.5 154.4L1348.5 153.1L1349.5 151.7L1350.5 150.1L1351.5 148.6L1352.5 147.0L1353.5 145.0L1354.5 142.6L1355.5 140.1L1356.5 137.6L1357.5 135.4L1358.5 134.0L1359.5 132.9L1360.5 131.9L1361.5 131.1L1362.5 130.4L1363.5 130.1L1364.5 130.4L1365.5 130.9L1366.5 131.5L1367.5 132.1L1368.5 132.8L1369.5 133.6L1370.5 134.3L1371.5 135.0L1372.5 135.7L1373.5 136.4L1374.5 136.9L1375.5 137.3L1376.5 137.5L1377.5 136.9L1378.5 136.1L1379.5 135.1L1380.5 134.1L1381.5 132.9L1382.5 131.7L1383.5 130.5L1384.5 129.4L1385.5 128.4L1386.5 127.5L1387.5 126.7L1388.5 125.9L1389.5 125.1L1390.5 124.4L1391.5 123.8L1392.5 123.3L1393.5 123.2L1394.5 123.4L1395.5 123.8L1396.5 124.2L1397.5 124.6L1398.5 125.1L1399.5 125.5L1400.5 126.0L1401.5 126.5L1402.5 126.9L1403.5 127.3L1404.5 127.6L1405.5 127.8L1406.5 127.8L1407.5 127.4L1408.5 127.1L1409.5 126.6L1410.5 126.1L1411.5 125.6L1412.5 125.0L1413.5 124.4L1414.5 123.8L1415.5 123.2L1416.5 122.7L1417.5 122.2L1418.5 121.7L1419.5 121.4L1420.5 121.0L1421.5 121.0L1422.5 121.1L1423.5 121.4L1424.5 121.7L1425.5 122.0L1426.5 122.4L1427.5 122.7L1428.5 123.1L1429.5 123.5L1430.5 123.8L1431.5 124.2L1432.5 124.5L1433.5 124.7L1434.5 124.9L1435.5 124.9L1436.5 124.6L1437.5 124.2L1438.5 123.8L1439.5 123.3L1440.5 122.7L1441.5 122.2L1442.5 121.6L1443.5 121.0L1444.5 120.5L1445.5 120.0L1446.5 119.5L1447.5 119.1L1448.5 118.8L1449.5 118.6L1450.5 118.8L1451.5 119.0L1452.5 119.2L1453.5 119.5L1454.5 119.8L1455.5 120.2L1456.5 120.5L1457.5 120.9L1458.5 121.2L1459.5 121.5L1460.5 121.9L1461.5 122.2L1462.5 122.4L1463.5 122.6L1464.5 122.8L1465.5 122.7L1466.5 122.5L1467.5 122.3L1468.5 121.9L1469.5 121.6L1470.5 121.2L1471.5 120.8L1472.5 120.4L1473.5 120.0L1474.5 119.6L1475.5 119.3L1476.5 118.9L1477.5 118.6L1478.5 118.3L1479.5 118.1L1480.5 117.9L1481.5 118.0L1482.5 118.2L1483.5 118.4L1484.5 118.7L1485.5 118.9L1486.5 119.2L1487.5 119.5L1488.5 119.8L1489.5 120.1L1490.5 120.4L1491.5 120.7L1492.5 121.0L1493.5 121.2L1494.5 121.4L1495.5 121.5L1496.5 121.5L1497.5 121.4L1498.5 121.2L1499.5 120.9L1500.5 120.6L1501.5 120.3L1502.5 120.0L1503.5 119.7L1504.5 119.3L1505.5 119.0L1506.5 118.7L1507.5 118.4L1508.5 118.1L1509.5 117.9L1510.5 117.7L1511.5 117.5L1512.5 117.6L1513.5 117.7L1514.5 117.9L1515.5 118.1L1516.5 118.3L1517.5 118.6L1518.5 118.8L1519.5 119.1L1520.5 119.3L1521.5 119.6L1522.5 119.8L1523.5 120.0L1524.5 120.2L1525.5 120.4L1526.5 120.6L1527.5 120.6L1528.5 120.5L1529.5 120.3L1530.5 120.1L1531.5 119.9L1532.5 119.6L1533.5 119.4L1534.5 119.1L1535.5 118.8L1536.5 118.5L1537.5 118.3L1538.5 118.0L1539.5 117.8L1540.5 117.6L1541.5 117.4L1542.5 117.3L1543.5 117.3L1544.5 117.4L1545.5 117.5L1546.5 117.7L1547.5 117.9L1548.5 118.1L1549.5 118.3L1550.5 118.5L1551.5 118.7L1552.5 118.9L1553.5 119.1L1554.5 119.3L1555.5 119.5L1556.5 119.7L1557.5 119.8L1558.5 119.9L1559.5 119.8L1560.5 119.7L1561.5 119.5L1562.5 119.3L1563.5 119.1L1564.5 118.9L1565.5 118.6L1566.5 118.4L1567.5 118.2L1568.5 117.9L1569.5 117.7L1570.5 117.5L1571.5 117.3L1572.5 117.2L1573.5 117.0L1574.5 117.0L1575.5 117.1L1576.5 117.2L1577.5 117.3L1578.5 117.5L1579.5 117.7L1580.5 117.9L1581.5 118.0L1582.5 118.2L1583.5 118.4L1584.5 118.6L1585.5 118.8L1586.5 118.9L1587.5 119.1L1588.5 119.2L1589.5 119.3L1590.5 119.3L1591.5 119.2L1592.5 119.0L1593.5 118.9L1594.5 118.7L1595.5 118.5L1596.5 118.3L1597.5 118.1L1598.5 117.9L1599.5 117.7L1600.5 117.5L1601.5 117.3L1602.5 117.2L1603.5 117.0L1604.5 116.9L1605.5 116.8L1606.5 116.9L1607.5 117.0L1608.5 117.1L1609.5 117.2L1610.5 117.4L1611.5 117.5L1612.5 117.7L1613.5 117.8L1614.5 118.0L1615.5 118.2L1616.5 118.3L1617.5 118.5L1618.5 118.6L1619.5 118.7L1620.5 118.8L1621.5 118.9L1622.5 118.8L1623.5 118.7L1624.5 118.5L1625.5 118.4L1626.5 118.2L1627.5 118.1L1628.5 117.9L1629.5 117.7L1630.5 117.5L1631.5 117.4L1632.5 117.2L1633.5 117.0L1634.5 116.9L1635.5 116.8L1636.5 116.7L1637.5 116.7L1638.5 116.8L1639.5 116.9L1640.5 117.0L1641.5 117.1L1642.5 117.2L1643.5 117.4L1644.5 117.5L1645.5 117.7L1646.5 117.8L1647.5 118.0L1648.5 118.1L1649.5 118.2L1650.5 118.4L1651.5 118.4L1652.5 118.5L1653.5 118.5L1654.5 118.4L1655.5 118.3L1656.5 118.2L1657.5 118.0L1658.5 117.9L1659.5 117.7L1660.5 117.6L1661.5 117.4L1662.5 117.3L1663.5 117.1L1664.5 117.0L1665.5 116.8L1666.5 116.7L1667.5 116.6L1668.5 116.6L1669.5 116.6L1670.5 116.7L1671.5 116.8L1672.5 116.9L1673.5 117.0L1674.5 117.1L1675.5 117.3L1676.5 117.4L1677.5 117.6L1678.5 117.7L1679.5 117.8L1680.5 117.9L1681.5 118.1L1682.5 118.1L1683.5 118.2L1684.5 118.3L1685.5 118.2L1686.5 118.1L1687.5 118.0L1688.5 117.9L1689.5 117.8L1690.5 117.6L1691.5 117.5L1692.5 117.3L1693.5 117.2L1694.5 117.0L1695.5 116.9L1696.5 116.8L1697.5 116.7L1698.5 116.6L1699.5 116.5L1700.5 116.5L1701.5 116.6L1702.5 116.6L1703.5 116.7L1704.5 116.8L1705.5 117.0L1706.5 117.1L1707.5 117.2L1708.5 117.3L1709.5 117.5L1710.5 117.6L1711.5 117.7L1712.5 117.8L1713.5 117.9L1714.5 118.0L1715.5 118.1L1716.5 118.0L1717.5 118.0L1718.5 117.9L1719.5 117.8L1720.5 117.7L1721.5 117.5L1722.5 117.4L1723.5 117.3L1724.5 117.2L1725.5 117.0L1726.5 116.9L1727.5 116.8L1728.5 116.7L1729.5 116.6L1730.5 116.5L1731.5 116.4L1732.5 116.4L1733.5 116.5L1734.5 116.6L1735.5 116.7L1736.5 116.8L1737.5 116.9L1738.5 117.0L1739.5 117.1L1740.5 117.3L1741.5 117.4L1742.5 117.5L1743.5 117.6L1744.5 117.7L1745.5 117.8L1746.5 117.9L1747.5 117.9L1748.5 117.9L1749.5 117.8L1750.5 117.7L1751.5 117.6L1752.5 117.5L1753.5 117.4L1754.5 117.3L1755.5 117.1L1756.5 117.0L1757.5 116.9L1758.5 116.8L1759.5 116.7L1760.5 116.6L1761.5 116.5L1762.5 116.4L1763.5 116.4L1764.5 116.4L1765.5 116.5L1766.5 116.6L1767.5 116.7L1768.5 116.8L1769.5 116.9L1770.5 117.0L1771.5 117.1L1772.5 117.2L1773.5 117.3L1774.5 117.4L1775.5 117.5L1776.5 117.6L1777.5 117.7L1778.5 117.8L1779.5 117.8L1780.5 117.7L1781.5 117.7L1782.5 117.6L1783.5 117.5L1784.5 117.4L1785.5 117.3L1786.5 117.1L1787.5 117.0L1788.5 116.9L1789.5 116.8L1790.5 116.7L1791.5 116.6L1792.5 116.5L1793.5 116.4L1794.5 116.4L1795.5 116.3L1796.5 116.4L1797.5 116.5L1798.5 116.5L1799.5 116.6L1800.5 116.7L1801.5 116.8L1802.5 116.9L1803.5 117.1L1804.5 117.2L1805.5 117.3L1806.5 117.4L1807.5 117.5L1808.5 117.5L1809.5 117.6L1810.5 117.7L1811.5 117.7L1812.5 117.6L1813.5 117.6L1814.5 117.5L1815.5 117.4L1816.5 117.3L1817.5 117.2L1818.5 117.1L1819.5 116.9L1820.5 116.8L1821.5 116.7L1822.5 116.6L1823.5 116.5L1824.5 116.4L1825.5 116.4L1826.5 116.3L1827.5 116.3L1828.5 116.4L1829.5 116.4L1830.5 116.5L1831.5 116.6L1832.5 116.7L1833.5 116.8L1834.5 116.9L1835.5 117.0L1836.5 117.1L1837.5 117.2L1838.5 117.3L1839.5 117.4L1840.5 117.5L1841.5 117.6L1842.5 117.6L1843.5 117.6L1844.5 117.6L1845.5 117.5L1846.5 117.4L1847.5 117.3L1848.5 117.2L1849.5 117.1L1850.5 117.0L1851.5 116.9L1852.5 116.8L1853.5 116.7L1854.5 116.6L1855.5 116.5L1856.5 116.4L1857.5 116.3L1858.5 116.3L1859.5 116.3L1860.5 116.4L1861.5 116.4L1862.5 116.5L1863.5 116.6L1864.5 116.7L1865.5 116.8L1866.5 116.9L1867.5 117.0L1868.5 117.1L1869.5 117.2L1870.5 117.3L1871.5 117.4L1872.5 117.4L1873.5 117.5L1874.5 117.6L1875.5 117.6L1876.5 117.5L1877.5 117.4L1878.5 117.3L1879.5 117.3L1880.5 117.2L1881.5 117.1L1882.5 117.0L1883.5 116.8L1884.5 116.7L1885.5 116.6L1886.5 116.5L1887.5 116.5L1888.5 116.4L1889.5 116.3L1890.5 116.3L1891.5 116.3L1892.5 116.3L1893.5 116.4L1894.5 116.5L1895.5 116.6L1896.5 116.7L1897.5 116.8L1898.5 116.9L1899.5 117.0L1900.5 117.1L1901.5 117.2L1902.5 117.3L1903.5 117.3L1904.5 117.4L1905.5 117.5L1906.5 117.5L1907.5 117.5L1908.5 117.5L1909.5 117.4L1910.5 117.3L1911.5 117.2L1912.5 117.1L1913.5 117.0L1914.5 116.9L1915.5 116.8L1916.5 116.7L1917.5 116.6L1918.5 116.5L1919.5 116.4L1920.5 116.4L1921.5 116.3L1922.5 116.3L1923.5 116.3L1924.5 116.3L1925.5 116.4L1926.5 116.5L1927.5 116.6L1928.5 116.6L1929.5 116.7L1930.5 116.8L1931.5 116.9L1932.5 117.0L1933.5 117.1L1934.5 117.2L1935.5 117.3L1936.5 117.4L1937.5 117.4L1938.5 117.5L1939.5 117.5L1940.5 117.4L1941.5 117.4L1942.5 117.3L1943.5 117.2L1944.5 117.1L1945.5 117.0L1946.5 116.9L1947.5 116.8L1948.5 116.7L1949.5 116.6L1950.5 116.5L1951.5 116.4L1952.5 116.4L1953.5 116.3L1954.5 116.2L1955.5 116.3L1956.5 116.3L1957.5 116.4L1958.5 116.4L1959.5 116.5L1960.5 116.6L1961.5 116.7L1962.5 116.8L1963.5 116.9L1964.5 117.0L1965.5 117.1L1966.5 117.2L1967.5 117.3L1968.5 117.4L1969.5 117.4L1970.5 117.5L1971.5 117.5L1972.5 117.4L1973.5 117.3L1974.5 117.3L1975.5 117.2L1976.5 117.1L1977.5 117.0L1978.5 116.9L1979.5 116.8L1980.5 116.7L1981.5 116.6L1982.5 116.5L1983.5 116.4L1984.5 116.4L1985.5 116.3L1986.5 116.2L1987.5 116.2L1988.5 116.3L1989.5 116.4L1990.5 116.4L1991.5 116.5L1992.5 116.6L1993.5 116.7L1994.5 116.8L1995.5 116.9L1996.5 117.0L1997.5 117.1L1998.5 117.2L1999.5 117.2L2000.5 117.3L2001.5 117.4L2002.5 117.4"/>
<path stroke="#7E2F8E" d="M260.5 117.8L261.5 117.9L262.5 118.0L263.5 118.1L264.5 118.2L265.5 118.3L266.5 118.4L267.5 118.4L268.5 118.5L269.5 118.5L270.5 118.4L271.5 118.3L272.5 118.3L273.5 118.1L274.5 118.0L275.5 117.9L276.5 117.8L277.5 117.7L278.5 117.5L279.5 117.4L280.5 117.3L281.5 117.2L282.5 117.2L283.5 117.1L284.5 117.1L285.5 117.2L286.5 117.3L287.5 117.4L288.5 117.5L289.5 117.6L290.5 117.8L291.5 117.9L292.5 118.0L293.5 118.1L294.5 118.2L295.5 118.3L296.5 118.4L297.5 118.5L298.5 118.5L299.5 118.4L300.5 118.3L301.5 118.2L302.5 118.1L303.5 118.0L304.5 117.9L305.5 117.8L306.5 117.7L307.5 117.5L308.5 117.4L309.5 117.3L310.5 117.2L311.5 117.2L312.5 117.1L313.5 117.2L314.5 117.2L315.5 117.3L316.5 117.4L317.5 117.5L318.5 117.6L319.5 117.8L320.5 117.9L321.5 118.0L322.5 118.1L323.5 118.2L324.5 118.3L325.5 118.4L326.5 118.5L327.5 118.5L328.5 118.4L329.5 118.3L330.5 118.2L331.5 118.1L332.5 118.0L333.5 117.9L334.5 117.8L335.5 117.6L336.5 117.5L337.5 117.4L338.5 117.3L339.5 117.2L340.5 117.2L341.5 117.1L342.5 117.2L343.5 117.2L344.5 117.3L345.5 117.4L346.5 117.5L347.5 117.7L348.5 117.8L349.5 117.9L350.5 118.0L351.5 118.1L352.5 118.2L353.5 118.3L354.5 118.4L355.5 118.5L356.5 118.5L357.5 118.4L358.5 118.3L359.5 118.2L360.5 118.1L361.5 118.0L362.5 117.9L363.5 117.8L364.5 117.6L365.5 117.5L366.5 117.4L367.5 117.3L368.5 117.2L369.5 117.2L370.5 117.1L371.5 117.2L372.5 117.2L373.5 117.3L374.5 117.4L375.5 117.5L376.5 117.7L377.5 117.8L378.5 117.9L379.5 118.0L380.5 118.1L381.5 118.2L382.5 118.3L383.5 118.4L384.5 118.5L385.5 118.5L386.5 118.4L387.5 118.3L388.5 118.2L389.5 118.1L390.5 118.0L391.5 117.9L392.5 117.8L393.5 117.6L394.5 117.5L395.5 117.4L396.5 117.3L397.5 117.2L398.5 117.2L399.5 117.1L400.5 117.2L401.5 117.2L402.5 117.3L403.5 117.4L404.5 117.5L405.5 117.6L406.5 117.8L407.5 117.9L408.5 118.0L409.5 118.1L410.5 118.2L411.5 118.3L412.5 118.4L413.5 118.5L414.5 118.5L415.5 118.4L416.5 118.3L417.5 118.2L418.5 118.1L419.5 118.0L420.5 117.9L421.5 117.8L422.5 117.7L423.5 117.5L424.5 117.4L425.5 117.3L426.5 117.2L427.5 117.2L428.5 117.1L429.5 117.1L430.5 117.2L431.5 117.3L432.5 117.4L433.5 117.5L434.5 117.6L435.5 117.7L436.5 117.9L437.5 118.0L438.5 118.1L439.5 118.2L440.5 118.3L441.5 118.4L442.5 118.5L443.5 118.5L444.5 118.4L445.5 118.4L446.5 118.3L447.5 118.2L448.5 118.0L449.5 117.9L450.5 117.8L451.5 117.7L452.5 117.6L453.5 117.4L454.5 117.3L455.5 117.3L456.5 117.2L457.5 117.1L458.5 117.1L459.5 117.2L460.5 117.3L461.5 117.4L462.5 117.5L463.5 117.6L464.5 117.7L465.5 117.8L466.5 118.0L467.5 118.1L468.5 118.2L469.5 118.3L470.5 118.4L471.5 118.5L472.5 118.5L473.5 118.4L474.5 118.4L475.5 118.3L476.5 118.2L477.5 118.1L478.5 117.9L479.5 117.8L480.5 117.7L481.5 117.6L482.5 117.5L483.5 117.4L484.5 117.3L485.5 117.2L486.5 117.1L487.5 117.1L488.5 117.2L489.5 117.3L490.5 117.4L491.5 117.5L492.5 117.6L493.5 117.7L494.5 117.8L495.5 117.9L496.5 118.1L497.5 118.2L498.5 118.3L499.5 118.4L500.5 118.4L501.5 118.5L502.5 118.5L503.5 118.4L504.5 118.3L505.5 118.2L506.5 118.1L507.5 118.0L508.5 117.9L509.5 117.7L510.5 117.6L511.5 117.5L512.5 117.4L513.5 117.3L514.5 117.2L515.5 117.1L516.5 117.1L517.5 117.2L518.5 117.2L519.5 117.3L520.5 117.4L521.5 117.5L522.5 117.7L523.5 117.8L524.5 117.9L525.5 118.0L526.5 118.1L527.5 118.2L528.5 118.3L529.5 118.4L530.5 118.5L531.5 118.5L532.5 118.4L533.5 118.3L534.5 118.2L535.5 118.1L536.5 118.0L537.5 117.9L538.5 117.8L539.5 117.7L540.5 117.5L541.5 117.4L542.5 117.3L543.5 117.2L544.5 117.2L545.5 117.1L546.5 117.1L547.5 117.2L548.5 117.3L549.5 117.4L550.5 117.5L551.5 117.6L552.5 117.7L553.5 117.9L554.5 118.0L555.5 118.1L556.5 118.2L557.5 118.3L558.5 118.4L559.5 118.5L560.5 118.5L561.5 118.4L562.5 118.4L563.5 118.3L564.5 118.2L565.5 118.1L566.5 117.9L567.5 117.8L568.5 117.7L569.5 117.6L570.5 117.5L571.5 117.4L572.5 117.3L573.5 117.2L574.5 117.1L575.5 117.1L576.5 117.2L577.5 117.3L578.5 117.4L579.5 117.5L580.5 117.6L581.5 117.7L582.5 117.8L583.5 117.9L584.5 118.0L585.5 118.2L586.5 118.3L587.5 118.4L588.5 118.4L589.5 118.5L590.5 118.5L591.5 118.4L592.5 118.3L593.5 118.2L594.5 118.1L595.5 118.0L596.5 117.9L597.5 117.8L598.5 117.6L599.5 117.5L600.5 117.4L601.5 117.3L602.5 117.2L603.5 117.2L604.5 117.1L605.5 117.2L606.5 117.2L607.5 117.3L608.5 117.4L609.5 117.5L610.5 117.6L611.5 117.8L612.5 117.9L613.5 118.0L614.5 118.1L615.5 118.2L616.5 118.3L617.5 118.4L618.5 118.5L619.5 118.5L620.5 118.4L621.5 118.4L622.5 118.3L623.5 118.2L624.5 118.1L625.5 117.9L626.5 117.8L627.5 117.7L628.5 117.6L629.5 117.5L630.5 117.4L631.5 117.3L632.5 117.2L633.5 117.1L634.5 117.1L635.5 117.2L636.5 117.3L637.5 117.4L638.5 117.5L639.5 117.6L640.5 117.7L641.5 117.8L642.5 117.9L643.5 118.0L644.5 118.2L645.5 118.3L646.5 118.4L647.5 118.4L648.5 118.5L649.5 118.5L650.5 118.4L651.5 118.3L652.5 118.2L653.5 118.1L654.5 118.0L655.5 117.9L656.5 117.8L657.5 117.6L658.5 117.5L659.5 117.4L660.5 117.3L661.5 117.2L662.5 117.2L663.5 117.1L664.5 117.1L665.5 117.2L666.5 117.3L667.5 117.4L668.5 117.5L669.5 117.6L670.5 117.7L671.5 117.9L672.5 118.0L673.5 118.1L674.5 118.2L675.5 118.3L676.5 118.4L677.5 118.5L678.5 118.5L679.5 118.4L680.5 118.4L681.5 118.3L682.5 118.2L683.5 118.1L684.5 118.0L685.5 117.8L686.5 117.7L687.5 117.6L688.5 117.5L689.5 117.4L690.5 117.3L691.5 117.2L692.5 117.1L693.5 117.1L694.5 117.2L695.5 117.2L696.5 117.3L697.5 117.4L698.5 117.5L699.5 117.7L700.5 117.8L701.5 117.9L702.5 118.0L703.5 118.1L704.5 118.2L705.5 118.3L706.5 118.4L707.5 118.5L708.5 118.5L709.5 118.4L710.5 118.3L711.5 118.3L712.5 118.2L713.5 118.0L714.5 117.9L715.5 117.8L716.5 117.7L717.5 117.6L718.5 117.5L719.5 117.4L720.5 117.3L721.5 117.2L722.5 117.1L723.5 117.1L724.5 117.2L725.5 117.3L726.5 117.4L727.5 117.5L728.5 117.6L729.5 117.7L730.5 117.8L731.5 117.9L732.5 118.1L733.5 118.2L734.5 118.3L735.5 118.4L736.5 118.4L737.5 118.5L738.5 118.5L739.5 118.4L740.5 118.3L741.5 118.2L742.5 118.1L743.5 118.0L744.5 117.9L745.5 117.8L746.5 117.7L747.5 117.5L748.5 117.4L749.5 117.3L750.5 117.2L751.5 117.2L752.5 117.1L753.5 117.1L754.5 117.2L755.5 117.3L756.5 117.4L757.5 117.5L758.5 117.6L759.5 117.7L760.5 117.9L761.5 118.0L762.5 118.1L763.5 118.2L764.5 118.3L765.5 118.4L766.5 118.5L767.5 118.5L768.5 118.5L769.5 118.4L770.5 118.3L771.5 118.2L772.5 118.1L773.5 118.0L774.5 117.9L775.5 117.8L776.5 117.6L777.5 117.5L778.5 117.4L779.5 117.3L780.5 117.2L781.5 117.2L782.5 117.1L783.5 117.2L784.5 117.2L785.5 117.3L786.5 117.4L787.5 117.5L788.5 117.6L789.5 117.8L790.5 117.9L791.5 118.0L792.5 118.1L793.5 118.2L794.5 118.3L795.5 118.4L796.5 118.5L797.5 118.5L798.5 118.5L799.5 118.4L800.5 118.3L801.5 118.2L802.5 118.1L803.5 118.0L804.5 117.9L805.5 117.7L806.5 117.6L807.5 117.5L808.5 117.4L809.5 117.3L810.5 117.2L811.5 117.2L812.5 117.1L813.5 117.2L814.5 117.2L815.5 117.3L816.5 117.4L817.5 117.5L818.5 117.7L819.5 117.8L820.5 117.9L821.5 118.0L822.5 118.1L823.5 118.2L824.5 118.3L825.5 118.4L826.5 118.5L827.5 118.5L828.5 118.5L829.5 118.4L830.5 118.3L831.5 118.2L832.5 118.1L833.5 118.0L834.5 117.9L835.5 117.7L836.5 117.6L837.5 117.5L838.5 117.4L839.5 117.3L840.5 117.2L841.5 117.2L842.5 117.1L843.5 117.2L844.5 117.3L845.5 117.3L846.5 117.4L847.5 117.6L848.5 117.7L849.5 117.8L850.5 117.9L851.5 118.0L852.5 118.2L853.5 118.3L854.5 118.4L855.5 118.4L856.5 118.5L857.5 118.5L858.5 118.5L859.5 118.4L860.5 118.3L861.5 118.2L862.5 118.1L863.5 118.0L864.5 117.9L865.5 117.7L866.5 117.6L867.5 117.5L868.5 117.4L869.5 117.3L870.5 117.2L871.5 117.2L872.5 117.1L873.5 117.2L874.5 117.3L875.5 117.4L876.5 117.5L877.5 117.6L878.5 117.7L879.5 117.8L880.5 117.9L881.5 118.1L882.5 118.2L883.5 118.3L884.5 118.4L885.5 118.5L886.5 118.5L887.5 118.6L888.5 118.5L889.5 118.4L890.5 118.3L891.5 118.2L892.5 118.1L893.5 118.0L894.5 117.9L895.5 117.8L896.5 117.7L897.5 117.5L898.5 117.4L899.5 117.3L900.5 117.3L901.5 117.2L902.5 117.2L903.5 117.2L904.5 117.3L905.5 117.4L906.5 117.5L907.5 117.6L908.5 117.7L909.5 117.8L910.5 118.0L911.5 118.1L912.5 118.2L913.5 118.3L914.5 118.4L915.5 118.5L916.5 118.6L917.5 118.6L918.5 118.6L919.5 118.5L920.5 118.4L921.5 118.3L922.5 118.2L923.5 118.1L924.5 117.9L925.5 117.8L926.5 117.7L927.5 117.6L928.5 117.5L929.5 117.4L930.5 117.3L931.5 117.2L932.5 117.2L933.5 117.2L934.5 117.3L935.5 117.4L936.5 117.5L937.5 117.6L938.5 117.8L939.5 117.9L940.5 118.0L941.5 118.1L942.5 118.3L943.5 118.4L944.5 118.5L945.5 118.6L946.5 118.6L947.5 118.7L948.5 118.6L949.5 118.6L950.5 118.5L951.5 118.4L952.5 118.3L953.5 118.1L954.5 118.0L955.5 117.9L956.5 117.8L957.5 117.7L958.5 117.5L959.5 117.4L960.5 117.4L961.5 117.3L962.5 117.2L963.5 117.3L964.5 117.4L965.5 117.5L966.5 117.6L967.5 117.7L968.5 117.8L969.5 117.9L970.5 118.1L971.5 118.2L972.5 118.3L973.5 118.5L974.5 118.6L975.5 118.7L976.5 118.7L977.5 118.8L978.5 118.8L979.5 118.7L980.5 118.6L981.5 118.5L982.5 118.4L983.5 118.3L984.5 118.2L985.5 118.0L986.5 117.9L987.5 117.8L988.5 117.7L989.5 117.6L990.5 117.5L991.5 117.4L992.5 117.3L993.5 117.3L994.5 117.4L995.5 117.5L996.5 117.6L997.5 117.8L998.5 117.9L999.5 118.0L1000.5 118.2L1001.5 118.3L1002.5 118.5L1003.5 118.6L1004.5 118.7L1005.5 118.8L1006.5 118.9L1007.5 119.0L1008.5 119.0L1009.5 118.9L1010.5 118.8L1011.5 118.7L1012.5 118.6L1013.5 118.5L1014.5 118.4L1015.5 118.2L1016.5 118.1L1017.5 118.0L1018.5 117.8L1019.5 117.7L1020.5 117.6L1021.5 117.5L1022.5 117.5L1023.5 117.5L1024.5 117.5L1025.5 117.7L1026.5 117.8L1027.5 117.9L1028.5 118.1L1029.5 118.2L1030.5 118.4L1031.5 118.5L1032.5 118.7L1033.5 118.9L1034.5 119.0L1035.5 119.1L1036.5 119.2L1037.5 119.3L1038.5 119.4L1039.5 119.3L1040.5 119.2L1041.5 119.1L1042.5 119.0L1043.5 118.8L1044.5 118.7L1045.5 118.6L1046.5 118.4L1047.5 118.3L1048.5 118.1L1049.5 118.0L1050.5 117.9L1051.5 117.8L1052.5 117.7L1053.5 117.7L1054.5 117.8L1055.5 117.9L1056.5 118.0L1057.5 118.2L1058.5 118.3L1059.5 118.5L1060.5 118.7L1061.5 118.9L1062.5 119.1L1063.5 119.3L1064.5 119.4L1065.5 119.6L1066.5 119.7L1067.5 119.9L1068.5 119.9L1069.5 119.9L1070.5 119.8L1071.5 119.7L1072.5 119.5L1073.5 119.4L1074.5 119.3L1075.5 119.1L1076.5 118.9L1077.5 118.8L1078.5 118.6L1079.5 118.5L1080.5 118.3L1081.5 118.2L1082.5 118.1L1083.5 118.0L1084.5 118.1L1085.5 118.2L1086.5 118.4L1087.5 118.6L1088.5 118.8L1089.5 119.1L1090.5 119.3L1091.5 119.5L1092.5 119.8L1093.5 120.0L1094.5 120.3L1095.5 120.5L1096.5 120.7L1097.5 120.8L1098.5 121.0L1099.5 121.0L1100.5 120.8L1101.5 120.7L1102.5 120.5L1103.5 120.4L1104.5 120.2L1105.5 120.0L1106.5 119.7L1107.5 119.5L1108.5 119.3L1109.5 119.1L1110.5 119.0L1111.5 118.8L1112.5 118.7L1113.5 118.6L1114.5 118.7L1115.5 118.9L1116.5 119.1L1117.5 119.3L1118.5 119.6L1119.5 119.9L1120.5 120.2L1121.5 120.4L1122.5 120.7L1123.5 121.0L1124.5 121.3L1125.5 121.5L1126.5 121.7L1127.5 121.9L1128.5 122.0L1129.5 121.9L1130.5 121.7L1131.5 121.5L1132.5 121.3L1133.5 121.0L1134.5 120.7L1135.5 120.4L1136.5 120.2L1137.5 119.9L1138.5 119.6L1139.5 119.3L1140.5 119.1L1141.5 118.9L1142.5 118.7L1143.5 118.6L1144.5 118.8L1145.5 119.2L1146.5 119.5L1147.5 120.0L1148.5 120.5L1149.5 121.0L1150.5 121.5L1151.5 122.1L1152.5 122.6L1153.5 123.1L1154.5 123.6L1155.5 124.0L1156.5 124.4L1157.5 124.7L1158.5 124.7L1159.5 124.5L1160.5 124.2L1161.5 123.8L1162.5 123.4L1163.5 122.9L1164.5 122.5L1165.5 122.0L1166.5 121.5L1167.5 121.0L1168.5 120.5L1169.5 120.1L1170.5 119.6L1171.5 119.3L1172.5 118.9L1173.5 118.7L1174.5 118.8L1175.5 119.2L1176.5 119.8L1177.5 120.4L1178.5 121.1L1179.5 121.9L1180.5 122.8L1181.5 123.7L1182.5 124.5L1183.5 125.4L1184.5 126.3L1185.5 127.1L1186.5 127.9L1187.5 128.6L1188.5 129.3L1189.5 129.8L1190.5 130.2L1191.5 130.0L1192.5 129.6L1193.5 129.0L1194.5 128.3L1195.5 127.5L1196.5 126.7L1197.5 125.8L1198.5 125.0L1199.5 124.1L1200.5 123.2L1201.5 122.4L1202.5 121.7L1203.5 121.0L1204.5 120.4L1205.5 120.0L1206.5 120.0L1207.5 120.6L1208.5 121.3L1209.5 122.1L1210.5 123.1L1211.5 124.1L1212.5 125.1L1213.5 126.3L1214.5 127.4L1215.5 128.6L1216.5 129.8L1217.5 131.0L1218.5 132.2L1219.5 133.3L1220.5 134.3L1221.5 135.3L1222.5 136.2L1223.5 137.0L1224.5 137.7L1225.5 138.2L1226.5 138.1L1227.5 137.8L1228.5 137.5L1229.5 137.1L1230.5 136.6L1231.5 136.1L1232.5 135.6L1233.5 135.0L1234.5 134.5L1235.5 133.9L1236.5 133.4L1237.5 132.9L1238.5 132.4L1239.5 131.9L1240.5 131.5L1241.5 131.1L1242.5 130.9L1243.5 131.1L1244.5 133.3L1245.5 136.1L1246.5 139.5L1247.5 142.9L1248.5 146.0L1249.5 148.6L1250.5 150.4L1251.5 152.3L1252.5 154.1L1253.5 155.7L1254.5 157.2L1255.5 158.3L1256.5 158.8L1257.5 158.4L1258.5 157.8L1259.5 157.1L1260.5 156.3L1261.5 155.5L1262.5 154.8L1263.5 154.0L1264.5 153.4L1265.5 153.0L1266.5 153.3L1267.5 154.5L1268.5 156.1L1269.5 157.9L1270.5 160.0L1271.5 162.1L1272.5 164.7L1273.5 168.5L1274.5 172.7L1275.5 177.0L1276.5 181.5L1277.5 186.3L1278.5 191.3L1279.5 196.9L1280.5 203.3L1281.5 209.9L1282.5 216.5L1283.5 222.7L1284.5 227.6L1285.5 231.6L1286.5 235.4L1287.5 239.0L1288.5 242.7L1289.5 246.6L1290.5 251.0L1291.5 255.5L1292.5 260.2L1293.5 264.9L1294.5 269.6L1295.5 274.4L1296.5 279.2L1297.5 285.0L1298.5 304.1L1299.5 328.7L1300.5 355.2L1301.5 380.0L1302.5 400.5L1303.5 420.0L1304.5 439.8L1305.5 460.7L1306.5 486.9L1307.5 519.3L1308.5 553.1L1309.5 587.3L1310.5 622.2L1311.5 658.3L1312.5 700.9L1313.5 743.6L1314.5 773.8L1315.5 798.8L1316.5 817.5L1317.5 835.6L1318.5 853.5L1319.5 869.1L1320.5 877.3L1321.5 881.9L1322.5 881.9L1323.5 877.3L1324.5 869.1L1325.5 853.5L1326.5 835.6L1327.5 817.5L1328.5 798.8L1329.5 773.7L1330.5 743.9L1331.5 703.5L1332.5 662.0L1333.5 625.3L1334.5 588.9L1335.5 547.6L1336.5 500.5L1337.5 465.1L1338.5 443.8L1339.5 424.8L1340.5 407.4L1341.5 390.6L1342.5 373.7L1343.5 356.6L1344.5 339.1L1345.5 321.8L1346.5 305.5L1347.5 291.2L1348.5 281.8L1349.5 276.1L1350.5 270.9L1351.5 266.1L1352.5 261.6L1353.5 257.2L1354.5 252.7L1355.5 248.0L1356.5 242.9L1357.5 237.6L1358.5 232.3L1359.5 227.1L1360.5 222.0L1361.5 217.3L1362.5 213.3L1363.5 210.2L1364.5 207.3L1365.5 204.4L1366.5 201.2L1367.5 196.7L1368.5 190.0L1369.5 183.0L1370.5 177.4L1371.5 173.1L1372.5 169.3L1373.5 166.8L1374.5 165.7L1375.5 164.6L1376.5 163.7L1377.5 162.9L1378.5 162.3L1379.5 162.0L1380.5 162.3L1381.5 162.9L1382.5 163.5L1383.5 164.2L1384.5 164.9L1385.5 165.5L1386.5 166.1L1387.5 166.4L1388.5 165.9L1389.5 164.9L1390.5 163.6L1391.5 162.1L1392.5 160.5L1393.5 158.8L1394.5 157.1L1395.5 155.4L1396.5 152.9L1397.5 150.1L1398.5 147.3L1399.5 144.6L1400.5 142.3L1401.5 140.9L1402.5 139.5L1403.5 138.2L1404.5 137.1L1405.5 136.1L1406.5 135.4L1407.5 135.5L1408.5 136.0L1409.5 136.5L1410.5 137.1L1411.5 137.8L1412.5 138.5L1413.5 139.2L1414.5 139.9L1415.5 140.5L1416.5 141.1L1417.5 141.6L1418.5 142.0L1419.5 141.8L1420.5 141.0L1421.5 140.1L1422.5 139.0L1423.5 137.8L1424.5 136.5L1425.5 135.2L1426.5 134.0L1427.5 132.8L1428.5 131.7L1429.5 130.8L1430.5 129.8L1431.5 128.9L1432.5 128.0L1433.5 127.1L1434.5 126.4L1435.5 125.8L1436.5 125.4L1437.5 125.7L1438.5 126.1L1439.5 126.5L1440.5 127.0L1441.5 127.5L1442.5 128.1L1443.5 128.6L1444.5 129.2L1445.5 129.8L1446.5 130.3L1447.5 130.7L1448.5 131.1L1449.5 131.4L1450.5 131.3L1451.5 131.0L1452.5 130.5L1453.5 129.9L1454.5 129.3L1455.5 128.6L1456.5 127.8L1457.5 127.1L1458.5 126.3L1459.5 125.5L1460.5 124.8L1461.5 124.1L1462.5 123.4L1463.5 122.8L1464.5 122.3L1465.5 121.8L1466.5 121.5L1467.5 121.7L1468.5 122.0L1469.5 122.3L1470.5 122.7L1471.5 123.1L1472.5 123.5L1473.5 124.0L1474.5 124.5L1475.5 124.9L1476.5 125.3L1477.5 125.7L1478.5 126.0L1479.5 126.3L1480.5 126.5L1481.5 126.3L1482.5 126.0L1483.5 125.6L1484.5 125.2L1485.5 124.7L1486.5 124.2L1487.5 123.7L1488.5 123.1L1489.5 122.6L1490.5 122.0L1491.5 121.5L1492.5 121.0L1493.5 120.6L1494.5 120.2L1495.5 119.8L1496.5 119.6L1497.5 119.6L1498.5 119.8L1499.5 120.1L1500.5 120.5L1501.5 120.9L1502.5 121.3L1503.5 121.7L1504.5 122.2L1505.5 122.6L1506.5 123.1L1507.5 123.5L1508.5 123.9L1509.5 124.3L1510.5 124.6L1511.5 124.8L1512.5 125.0L1513.5 124.8L1514.5 124.5L1515.5 124.1L1516.5 123.7L1517.5 123.3L1518.5 122.8L1519.5 122.2L1520.5 121.7L1521.5 121.2L1522.5 120.7L1523.5 120.2L1524.5 119.7L1525.5 119.3L1526.5 119.0L1527.5 118.7L1528.5 118.6L1529.5 118.8L1530.5 119.1L1531.5 119.4L1532.5 119.7L1533.5 120.1L1534.5 120.5L1535.5 120.9L1536.5 121.3L1537.5 121.7L1538.5 122.1L1539.5 122.5L1540.5 122.8L1541.5 123.1L1542.5 123.4L1543.5 123.6L1544.5 123.5L1545.5 123.2L1546.5 122.9L1547.5 122.6L1548.5 122.2L1549.5 121.8L1550.5 121.4L1551.5 120.9L1552.5 120.5L1553.5 120.1L1554.5 119.6L1555.5 119.3L1556.5 118.9L1557.5 118.6L1558.5 118.4L1559.5 118.2L1560.5 118.3L1561.5 118.6L1562.5 118.8L1563.5 119.1L1564.5 119.4L1565.5 119.7L1566.5 120.1L1567.5 120.4L1568.5 120.8L1569.5 121.1L1570.5 121.4L1571.5 121.7L1572.5 122.0L1573.5 122.2L1574.5 122.4L1575.5 122.4L1576.5 122.2L1577.5 122.0L1578.5 121.7L1579.5 121.4L1580.5 121.1L1581.5 120.7L1582.5 120.3L1583.5 120.0L1584.5 119.6L1585.5 119.2L1586.5 118.9L1587.5 118.6L1588.5 118.3L1589.5 118.1L1590.5 117.9L1591.5 118.0L1592.5 118.1L1593.5 118.3L1594.5 118.5L1595.5 118.8L1596.5 119.1L1597.5 119.4L1598.5 119.7L1599.5 120.0L1600.5 120.3L1601.5 120.6L1602.5 120.8L1603.5 121.1L1604.5 121.3L1605.5 121.4L1606.5 121.6L1607.5 121.4L1608.5 121.2L1609.5 121.0L1610.5 120.8L1611.5 120.5L1612.5 120.2L1613.5 119.9L1614.5 119.5L1615.5 119.2L1616.5 118.9L1617.5 118.6L1618.5 118.3L1619.5 118.1L1620.5 117.9L1621.5 117.7L1622.5 117.6L1623.5 117.8L1624.5 117.9L1625.5 118.1L1626.5 118.3L1627.5 118.6L1628.5 118.8L1629.5 119.1L1630.5 119.4L1631.5 119.6L1632.5 119.9L1633.5 120.1L1634.5 120.3L1635.5 120.5L1636.5 120.7L1637.5 120.8L1638.5 120.8L1639.5 120.7L1640.5 120.5L1641.5 120.3L1642.5 120.0L1643.5 119.8L1644.5 119.5L1645.5 119.2L1646.5 118.9L1647.5 118.7L1648.5 118.4L1649.5 118.2L1650.5 117.9L1651.5 117.7L1652.5 117.6L1653.5 117.4L1654.5 117.5L1655.5 117.6L1656.5 117.8L1657.5 118.0L1658.5 118.2L1659.5 118.4L1660.5 118.6L1661.5 118.9L1662.5 119.1L1663.5 119.3L1664.5 119.5L1665.5 119.7L1666.5 119.9L1667.5 120.1L1668.5 120.2L1669.5 120.3L1670.5 120.2L1671.5 120.1L1672.5 119.9L1673.5 119.7L1674.5 119.5L1675.5 119.2L1676.5 119.0L1677.5 118.7L1678.5 118.5L1679.5 118.3L1680.5 118.0L1681.5 117.8L1682.5 117.6L1683.5 117.5L1684.5 117.3L1685.5 117.3L1686.5 117.4L1687.5 117.5L1688.5 117.7L1689.5 117.8L1690.5 118.0L1691.5 118.2L1692.5 118.4L1693.5 118.7L1694.5 118.9L1695.5 119.1L1696.5 119.3L1697.5 119.4L1698.5 119.6L1699.5 119.7L1700.5 119.8L1701.5 119.8L1702.5 119.7L1703.5 119.6L1704.5 119.4L1705.5 119.2L1706.5 119.0L1707.5 118.8L1708.5 118.6L1709.5 118.4L1710.5 118.2L1711.5 118.0L1712.5 117.8L1713.5 117.6L1714.5 117.4L1715.5 117.3L1716.5 117.2L1717.5 117.2L1718.5 117.3L1719.5 117.4L1720.5 117.6L1721.5 117.7L1722.5 117.9L1723.5 118.1L1724.5 118.3L1725.5 118.5L1726.5 118.7L1727.5 118.9L1728.5 119.0L1729.5 119.2L1730.5 119.3L1731.5 119.4L1732.5 119.5L1733.5 119.5L1734.5 119.4L1735.5 119.2L1736.5 119.1L1737.5 118.9L1738.5 118.7L1739.5 118.5L1740.5 118.3L1741.5 118.1L1742.5 117.9L1743.5 117.7L1744.5 117.5L1745.5 117.4L1746.5 117.2L1747.5 117.1L1748.5 117.0L1749.5 117.1L1750.5 117.2L1751.5 117.4L1752.5 117.5L1753.5 117.7L1754.5 117.8L1755.5 118.0L1756.5 118.2L1757.5 118.4L1758.5 118.5L1759.5 118.7L1760.5 118.9L1761.5 119.0L1762.5 119.1L1763.5 119.2L1764.5 119.3L1765.5 119.2L1766.5 119.1L1767.5 118.9L1768.5 118.8L1769.5 118.6L1770.5 118.4L1771.5 118.3L1772.5 118.1L1773.5 117.9L1774.5 117.7L1775.5 117.5L1776.5 117.4L1777.5 117.2L1778.5 117.1L1779.5 117.0L1780.5 117.0L1781.5 117.1L1782.5 117.2L1783.5 117.3L1784.5 117.4L1785.5 117.6L1786.5 117.7L1787.5 117.9L1788.5 118.1L1789.5 118.2L1790.5 118.4L1791.5 118.6L1792.5 118.7L1793.5 118.8L1794.5 118.9L1795.5 119.0L1796.5 119.0L1797.5 118.9L1798.5 118.8L1799.5 118.7L1800.5 118.6L1801.5 118.4L1802.5 118.2L1803.5 118.1L1804.5 117.9L1805.5 117.7L1806.5 117.6L1807.5 117.4L1808.5 117.3L1809.5 117.1L1810.5 117.0L1811.5 116.9L1812.5 116.9L1813.5 117.0L1814.5 117.1L1815.5 117.2L1816.5 117.4L1817.5 117.5L1818.5 117.7L1819.5 117.8L1820.5 118.0L1821.5 118.1L1822.5 118.3L1823.5 118.4L1824.5 118.6L1825.5 118.7L1826.5 118.8L1827.5 118.9L1828.5 118.9L1829.5 118.8L1830.5 118.7L1831.5 118.5L1832.5 118.4L1833.5 118.3L1834.5 118.1L1835.5 117.9L1836.5 117.8L1837.5 117.6L1838.5 117.5L1839.5 117.3L1840.5 117.2L1841.5 117.1L1842.5 117.0L1843.5 116.9L1844.5 116.9L1845.5 117.0L1846.5 117.1L1847.5 117.2L1848.5 117.3L1849.5 117.5L1850.5 117.6L1851.5 117.8L1852.5 117.9L1853.5 118.1L1854.5 118.2L1855.5 118.4L1856.5 118.5L1857.5 118.6L1858.5 118.7L1859.5 118.8L1860.5 118.7L1861.5 118.6L1862.5 118.5L1863.5 118.4L1864.5 118.3L1865.5 118.1L1866.5 118.0L1867.5 117.8L1868.5 117.7L1869.5 117.5L1870.5 117.4L1871.5 117.2L1872.5 117.1L1873.5 117.0L1874.5 116.9L1875.5 116.8L1876.5 116.9L1877.5 117.0L1878.5 117.1L1879.5 117.2L1880.5 117.3L1881.5 117.4L1882.5 117.6L1883.5 117.7L1884.5 117.9L1885.5 118.0L1886.5 118.1L1887.5 118.3L1888.5 118.4L1889.5 118.5L1890.5 118.6L1891.5 118.7L1892.5 118.6L1893.5 118.5L1894.5 118.4L1895.5 118.3L1896.5 118.2L1897.5 118.1L1898.5 117.9L1899.5 117.8L1900.5 117.6L1901.5 117.5L1902.5 117.3L1903.5 117.2L1904.5 117.1L1905.5 117.0L1906.5 116.9L1907.5 116.8L1908.5 116.8L1909.5 116.9L1910.5 117.0L1911.5 117.1L1912.5 117.3L1913.5 117.4L1914.5 117.5L1915.5 117.7L1916.5 117.8L1917.5 117.9L1918.5 118.1L1919.5 118.2L1920.5 118.3L1921.5 118.4L1922.5 118.5L1923.5 118.6L1924.5 118.5L1925.5 118.5L1926.5 118.4L1927.5 118.3L1928.5 118.1L1929.5 118.0L1930.5 117.9L1931.5 117.7L1932.5 117.6L1933.5 117.4L1934.5 117.3L1935.5 117.2L1936.5 117.1L1937.5 116.9L1938.5 116.9L1939.5 116.8L1940.5 116.8L1941.5 116.9L1942.5 117.0L1943.5 117.1L1944.5 117.2L1945.5 117.3L1946.5 117.5L1947.5 117.6L1948.5 117.8L1949.5 117.9L1950.5 118.0L1951.5 118.1L1952.5 118.3L1953.5 118.4L1954.5 118.4L1955.5 118.5L1956.5 118.5L1957.5 118.4L1958.5 118.3L1959.5 118.2L1960.5 118.1L1961.5 118.0L1962.5 117.8L1963.5 117.7L1964.5 117.5L1965.5 117.4L1966.5 117.3L1967.5 117.2L1968.5 117.0L1969.5 116.9L1970.5 116.8L1971.5 116.8L1972.5 116.8L1973.5 116.9L1974.5 117.0L1975.5 117.1L1976.5 117.2L1977.5 117.3L1978.5 117.4L1979.5 117.6L1980.5 117.7L1981.5 117.8L1982.5 118.0L1983.5 118.1L1984.5 118.2L1985.5 118.3L1986.5 118.4L1987.5 118.5L1988.5 118.4L1989.5 118.4L1990.5 118.3L1991.5 118.2L1992.5 118.1L1993.5 117.9L1994.5 117.8L1995.5 117.7L1996.5 117.5L1997.5 117.4L1998.5 117.3L1999.5 117.1L2000.5 117.0L2001.5 116.9L2002.5 116.8"/>
<path stroke="#77AC30" d="M260.5 116.9L261.5 116.8L262.5 116.7L263.5 116.7L264.5 116.8L265.5 116.9L266.5 117.1L267.5 117.2L268.5 117.4L269.5 117.5L270.5 117.7L271.5 117.8L272.5 118.0L273.5 118.1L274.5 118.3L275.5 118.4L276.5 118.5L277.5 118.5L278.5 118.4L279.5 118.3L280.5 118.2L281.5 118.1L282.5 117.9L283.5 117.8L284.5 117.6L285.5 117.4L286.5 117.3L287.5 117.1L288.5 117.0L289.5 116.9L290.5 116.8L291.5 116.7L292.5 116.8L293.5 116.8L294.5 117.0L295.5 117.1L296.5 117.2L297.5 117.4L298.5 117.5L299.5 117.7L300.5 117.9L301.5 118.0L302.5 118.1L303.5 118.3L304.5 118.4L305.5 118.5L306.5 118.5L307.5 118.4L308.5 118.3L309.5 118.2L310.5 118.0L311.5 117.9L312.5 117.7L313.5 117.6L314.5 117.4L315.5 117.3L316.5 117.1L317.5 117.0L318.5 116.9L319.5 116.8L320.5 116.7L321.5 116.8L322.5 116.9L323.5 117.0L324.5 117.1L325.5 117.2L326.5 117.4L327.5 117.5L328.5 117.7L329.5 117.9L330.5 118.0L331.5 118.2L332.5 118.3L333.5 118.4L334.5 118.5L335.5 118.5L336.5 118.4L337.5 118.3L338.5 118.2L339.5 118.0L340.5 117.9L341.5 117.7L342.5 117.6L343.5 117.4L344.5 117.3L345.5 117.1L346.5 117.0L347.5 116.9L348.5 116.8L349.5 116.7L350.5 116.8L351.5 116.9L352.5 117.0L353.5 117.1L354.5 117.2L355.5 117.4L356.5 117.6L357.5 117.7L358.5 117.9L359.5 118.0L360.5 118.2L361.5 118.3L362.5 118.4L363.5 118.5L364.5 118.5L365.5 118.4L366.5 118.3L367.5 118.2L368.5 118.0L369.5 117.9L370.5 117.7L371.5 117.6L372.5 117.4L373.5 117.3L374.5 117.1L375.5 117.0L376.5 116.9L377.5 116.8L378.5 116.7L379.5 116.8L380.5 116.9L381.5 117.0L382.5 117.1L383.5 117.2L384.5 117.4L385.5 117.5L386.5 117.7L387.5 117.9L388.5 118.0L389.5 118.1L390.5 118.3L391.5 118.4L392.5 118.5L393.5 118.5L394.5 118.4L395.5 118.3L396.5 118.2L397.5 118.0L398.5 117.9L399.5 117.7L400.5 117.6L401.5 117.4L402.5 117.3L403.5 117.1L404.5 117.0L405.5 116.9L406.5 116.8L407.5 116.7L408.5 116.8L409.5 116.8L410.5 117.0L411.5 117.1L412.5 117.2L413.5 117.4L414.5 117.5L415.5 117.7L416.5 117.8L417.5 118.0L418.5 118.1L419.5 118.3L420.5 118.4L421.5 118.5L422.5 118.5L423.5 118.4L424.5 118.3L425.5 118.2L426.5 118.1L427.5 117.9L428.5 117.8L429.5 117.6L430.5 117.4L431.5 117.3L432.5 117.1L433.5 117.0L434.5 116.9L435.5 116.8L436.5 116.7L437.5 116.7L438.5 116.8L439.5 116.9L440.5 117.1L441.5 117.2L442.5 117.4L443.5 117.5L444.5 117.7L445.5 117.8L446.5 118.0L447.5 118.1L448.5 118.2L449.5 118.4L450.5 118.4L451.5 118.5L452.5 118.4L453.5 118.3L454.5 118.2L455.5 118.1L456.5 117.9L457.5 117.8L458.5 117.6L459.5 117.5L460.5 117.3L461.5 117.2L462.5 117.0L463.5 116.9L464.5 116.8L465.5 116.7L466.5 116.7L467.5 116.8L468.5 116.9L469.5 117.0L470.5 117.2L471.5 117.3L472.5 117.5L473.5 117.6L474.5 117.8L475.5 117.9L476.5 118.1L477.5 118.2L478.5 118.3L479.5 118.4L480.5 118.5L481.5 118.4L482.5 118.3L483.5 118.2L484.5 118.1L485.5 118.0L486.5 117.8L487.5 117.7L488.5 117.5L489.5 117.3L490.5 117.2L491.5 117.1L492.5 116.9L493.5 116.8L494.5 116.7L495.5 116.7L496.5 116.8L497.5 116.9L498.5 117.0L499.5 117.1L500.5 117.3L501.5 117.4L502.5 117.6L503.5 117.8L504.5 117.9L505.5 118.1L506.5 118.2L507.5 118.3L508.5 118.4L509.5 118.5L510.5 118.5L511.5 118.4L512.5 118.3L513.5 118.1L514.5 118.0L515.5 117.9L516.5 117.7L517.5 117.5L518.5 117.4L519.5 117.2L520.5 117.1L521.5 117.0L522.5 116.9L523.5 116.8L524.5 116.7L525.5 116.8L526.5 116.9L527.5 117.0L528.5 117.1L529.5 117.2L530.5 117.4L531.5 117.5L532.5 117.7L533.5 117.9L534.5 118.0L535.5 118.1L536.5 118.3L537.5 118.4L538.5 118.5L539.5 118.5L540.5 118.4L541.5 118.3L542.5 118.2L543.5 118.1L544.5 117.9L545.5 117.8L546.5 117.6L547.5 117.4L548.5 117.3L549.5 117.2L550.5 117.0L551.5 116.9L552.5 116.8L553.5 116.7L554.5 116.7L555.5 116.8L556.5 116.9L557.5 117.1L558.5 117.2L559.5 117.3L560.5 117.5L561.5 117.6L562.5 117.8L563.5 118.0L564.5 118.1L565.5 118.2L566.5 118.3L567.5 118.4L568.5 118.5L569.5 118.4L570.5 118.3L571.5 118.2L572.5 118.1L573.5 118.0L574.5 117.8L575.5 117.7L576.5 117.5L577.5 117.4L578.5 117.2L579.5 117.1L580.5 116.9L581.5 116.8L582.5 116.8L583.5 116.7L584.5 116.8L585.5 116.9L586.5 117.0L587.5 117.1L588.5 117.3L589.5 117.4L590.5 117.6L591.5 117.7L592.5 117.9L593.5 118.0L594.5 118.2L595.5 118.3L596.5 118.4L597.5 118.5L598.5 118.5L599.5 118.4L600.5 118.3L601.5 118.2L602.5 118.0L603.5 117.9L604.5 117.7L605.5 117.6L606.5 117.4L607.5 117.3L608.5 117.1L609.5 117.0L610.5 116.9L611.5 116.8L612.5 116.7L613.5 116.7L614.5 116.8L615.5 116.9L616.5 117.1L617.5 117.2L618.5 117.3L619.5 117.5L620.5 117.7L621.5 117.8L622.5 118.0L623.5 118.1L624.5 118.2L625.5 118.3L626.5 118.4L627.5 118.5L628.5 118.4L629.5 118.3L630.5 118.2L631.5 118.1L632.5 118.0L633.5 117.8L634.5 117.7L635.5 117.5L636.5 117.4L637.5 117.2L638.5 117.1L639.5 116.9L640.5 116.8L641.5 116.8L642.5 116.7L643.5 116.8L644.5 116.9L645.5 117.0L646.5 117.1L647.5 117.3L648.5 117.4L649.5 117.6L650.5 117.7L651.5 117.9L652.5 118.0L653.5 118.2L654.5 118.3L655.5 118.4L656.5 118.5L657.5 118.5L658.5 118.4L659.5 118.3L660.5 118.2L661.5 118.0L662.5 117.9L663.5 117.8L664.5 117.6L665.5 117.4L666.5 117.3L667.5 117.1L668.5 117.0L669.5 116.9L670.5 116.8L671.5 116.7L672.5 116.7L673.5 116.8L674.5 116.9L675.5 117.0L676.5 117.2L677.5 117.3L678.5 117.5L679.5 117.6L680.5 117.8L681.5 117.9L682.5 118.1L683.5 118.2L684.5 118.3L685.5 118.4L686.5 118.5L687.5 118.5L688.5 118.4L689.5 118.3L690.5 118.1L691.5 118.0L692.5 117.8L693.5 117.7L694.5 117.5L695.5 117.4L696.5 117.2L697.5 117.1L698.5 117.0L699.5 116.9L700.5 116.8L701.5 116.7L702.5 116.8L703.5 116.9L704.5 117.0L705.5 117.1L706.5 117.2L707.5 117.4L708.5 117.5L709.5 117.7L710.5 117.8L711.5 118.0L712.5 118.1L713.5 118.3L714.5 118.4L715.5 118.5L716.5 118.5L717.5 118.4L718.5 118.3L719.5 118.2L720.5 118.1L721.5 118.0L722.5 117.8L723.5 117.6L724.5 117.5L725.5 117.3L726.5 117.2L727.5 117.1L728.5 116.9L729.5 116.8L730.5 116.7L731.5 116.7L732.5 116.8L733.5 116.9L734.5 117.0L735.5 117.1L736.5 117.3L737.5 117.4L738.5 117.6L739.5 117.7L740.5 117.9L741.5 118.0L742.5 118.2L743.5 118.3L744.5 118.4L745.5 118.5L746.5 118.5L747.5 118.4L748.5 118.3L749.5 118.2L750.5 118.1L751.5 117.9L752.5 117.8L753.5 117.6L754.5 117.5L755.5 117.3L756.5 117.2L757.5 117.0L758.5 116.9L759.5 116.8L760.5 116.7L761.5 116.7L762.5 116.8L763.5 116.9L764.5 117.0L765.5 117.2L766.5 117.3L767.5 117.5L768.5 117.6L769.5 117.8L770.5 117.9L771.5 118.1L772.5 118.2L773.5 118.3L774.5 118.4L775.5 118.5L776.5 118.5L777.5 118.4L778.5 118.3L779.5 118.2L780.5 118.0L781.5 117.9L782.5 117.7L783.5 117.6L784.5 117.4L785.5 117.3L786.5 117.1L787.5 117.0L788.5 116.9L789.5 116.8L790.5 116.7L791.5 116.7L792.5 116.8L793.5 116.9L794.5 117.1L795.5 117.2L796.5 117.3L797.5 117.5L798.5 117.6L799.5 117.8L800.5 117.9L801.5 118.1L802.5 118.2L803.5 118.3L804.5 118.4L805.5 118.5L806.5 118.5L807.5 118.4L808.5 118.3L809.5 118.2L810.5 118.0L811.5 117.9L812.5 117.7L813.5 117.6L814.5 117.4L815.5 117.3L816.5 117.1L817.5 117.0L818.5 116.9L819.5 116.8L820.5 116.7L821.5 116.7L822.5 116.8L823.5 116.9L824.5 117.1L825.5 117.2L826.5 117.4L827.5 117.5L828.5 117.7L829.5 117.8L830.5 118.0L831.5 118.1L832.5 118.2L833.5 118.4L834.5 118.5L835.5 118.5L836.5 118.5L837.5 118.4L838.5 118.3L839.5 118.2L840.5 118.0L841.5 117.9L842.5 117.7L843.5 117.6L844.5 117.4L845.5 117.3L846.5 117.1L847.5 117.0L848.5 116.9L849.5 116.8L850.5 116.7L851.5 116.7L852.5 116.8L853.5 116.9L854.5 117.1L855.5 117.2L856.5 117.4L857.5 117.5L858.5 117.7L859.5 117.8L860.5 118.0L861.5 118.1L862.5 118.3L863.5 118.4L864.5 118.5L865.5 118.5L866.5 118.5L867.5 118.4L868.5 118.3L869.5 118.2L870.5 118.0L871.5 117.9L872.5 117.7L873.5 117.6L874.5 117.4L875.5 117.2L876.5 117.1L877.5 117.0L878.5 116.9L879.5 116.8L880.5 116.7L881.5 116.7L882.5 116.8L883.5 116.9L884.5 117.1L885.5 117.2L886.5 117.4L887.5 117.5L888.5 117.7L889.5 117.8L890.5 118.0L891.5 118.1L892.5 118.3L893.5 118.4L894.5 118.5L895.5 118.6L896.5 118.5L897.5 118.4L898.5 118.3L899.5 118.2L900.5 118.0L901.5 117.9L902.5 117.7L903.5 117.6L904.5 117.4L905.5 117.3L906.5 117.1L907.5 117.0L908.5 116.9L909.5 116.8L910.5 116.7L911.5 116.7L912.5 116.8L913.5 116.9L914.5 117.1L915.5 117.2L916.5 117.4L917.5 117.5L918.5 117.7L919.5 117.9L920.5 118.0L921.5 118.2L922.5 118.3L923.5 118.4L924.5 118.5L925.5 118.6L926.5 118.6L927.5 118.5L928.5 118.4L929.5 118.2L930.5 118.1L931.5 117.9L932.5 117.8L933.5 117.6L934.5 117.4L935.5 117.3L936.5 117.1L937.5 117.0L938.5 116.9L939.5 116.8L940.5 116.7L941.5 116.7L942.5 116.8L943.5 116.9L944.5 117.0L945.5 117.2L946.5 117.4L947.5 117.5L948.5 117.7L949.5 117.9L950.5 118.0L951.5 118.2L952.5 118.3L953.5 118.4L954.5 118.6L955.5 118.6L956.5 118.6L957.5 118.5L958.5 118.4L959.5 118.3L960.5 118.1L961.5 118.0L962.5 117.8L963.5 117.6L964.5 117.5L965.5 117.3L966.5 117.2L967.5 117.0L968.5 116.9L969.5 116.8L970.5 116.7L971.5 116.7L972.5 116.8L973.5 116.9L974.5 117.0L975.5 117.2L976.5 117.3L977.5 117.5L978.5 117.7L979.5 117.9L980.5 118.0L981.5 118.2L982.5 118.4L983.5 118.5L984.5 118.6L985.5 118.7L986.5 118.7L987.5 118.6L988.5 118.5L989.5 118.4L990.5 118.2L991.5 118.1L992.5 117.9L993.5 117.7L994.5 117.5L995.5 117.4L996.5 117.2L997.5 117.0L998.5 116.9L999.5 116.8L1000.5 116.7L1001.5 116.6L1002.5 116.7L1003.5 116.8L1004.5 117.0L1005.5 117.1L1006.5 117.3L1007.5 117.5L1008.5 117.7L1009.5 117.9L1010.5 118.1L1011.5 118.2L1012.5 118.4L1013.5 118.5L1014.5 118.7L1015.5 118.8L1016.5 118.8L1017.5 118.8L1018.5 118.6L1019.5 118.5L1020.5 118.3L1021.5 118.2L1022.5 118.0L1023.5 117.8L1024.5 117.6L1025.5 117.4L1026.5 117.2L1027.5 117.1L1028.5 116.9L1029.5 116.8L1030.5 116.7L1031.5 116.6L1032.5 116.7L1033.5 116.8L1034.5 116.9L1035.5 117.1L1036.5 117.3L1037.5 117.5L1038.5 117.7L1039.5 117.9L1040.5 118.1L1041.5 118.3L1042.5 118.5L1043.5 118.6L1044.5 118.8L1045.5 118.9L1046.5 119.0L1047.5 118.9L1048.5 118.8L1049.5 118.7L1050.5 118.5L1051.5 118.3L1052.5 118.1L1053.5 117.9L1054.5 117.7L1055.5 117.5L1056.5 117.3L1057.5 117.1L1058.5 116.9L1059.5 116.8L1060.5 116.7L1061.5 116.6L1062.5 116.6L1063.5 116.7L1064.5 116.9L1065.5 117.0L1066.5 117.2L1067.5 117.5L1068.5 117.7L1069.5 117.9L1070.5 118.1L1071.5 118.3L1072.5 118.6L1073.5 118.8L1074.5 118.9L1075.5 119.1L1076.5 119.2L1077.5 119.2L1078.5 119.1L1079.5 118.9L1080.5 118.8L1081.5 118.6L1082.5 118.4L1083.5 118.1L1084.5 117.9L1085.5 117.7L1086.5 117.4L1087.5 117.2L1088.5 117.0L1089.5 116.8L1090.5 116.7L1091.5 116.5L1092.5 116.5L1093.5 116.6L1094.5 116.7L1095.5 116.9L1096.5 117.1L1097.5 117.4L1098.5 117.6L1099.5 117.9L1100.5 118.1L1101.5 118.4L1102.5 118.6L1103.5 118.9L1104.5 119.1L1105.5 119.2L1106.5 119.4L1107.5 119.5L1108.5 119.4L1109.5 119.3L1110.5 119.1L1111.5 118.9L1112.5 118.7L1113.5 118.4L1114.5 118.2L1115.5 118.0L1116.5 117.7L1117.5 117.5L1118.5 117.3L1119.5 117.1L1120.5 116.9L1121.5 116.7L1122.5 116.6L1123.5 116.7L1124.5 116.9L1125.5 117.1L1126.5 117.4L1127.5 117.6L1128.5 117.9L1129.5 118.3L1130.5 118.6L1131.5 118.9L1132.5 119.3L1133.5 119.6L1134.5 119.9L1135.5 120.1L1136.5 120.4L1137.5 120.6L1138.5 120.7L1139.5 120.6L1140.5 120.4L1141.5 120.1L1142.5 119.8L1143.5 119.5L1144.5 119.2L1145.5 118.9L1146.5 118.6L1147.5 118.2L1148.5 117.9L1149.5 117.6L1150.5 117.4L1151.5 117.2L1152.5 117.0L1153.5 117.1L1154.5 117.4L1155.5 117.7L1156.5 118.0L1157.5 118.4L1158.5 118.8L1159.5 119.3L1160.5 119.7L1161.5 120.2L1162.5 120.6L1163.5 121.0L1164.5 121.4L1165.5 121.8L1166.5 122.1L1167.5 122.3L1168.5 122.5L1169.5 122.3L1170.5 122.0L1171.5 121.7L1172.5 121.3L1173.5 120.9L1174.5 120.4L1175.5 120.0L1176.5 119.5L1177.5 119.1L1178.5 118.6L1179.5 118.2L1180.5 117.8L1181.5 117.5L1182.5 117.2L1183.5 117.0L1184.5 117.3L1185.5 117.7L1186.5 118.2L1187.5 118.7L1188.5 119.4L1189.5 120.0L1190.5 120.7L1191.5 121.5L1192.5 122.2L1193.5 122.9L1194.5 123.6L1195.5 124.2L1196.5 124.8L1197.5 125.3L1198.5 125.7L1199.5 126.0L1200.5 125.7L1201.5 125.3L1202.5 124.9L1203.5 124.3L1204.5 123.7L1205.5 123.1L1206.5 122.5L1207.5 121.8L1208.5 121.2L1209.5 120.5L1210.5 120.0L1211.5 119.4L1212.5 119.0L1213.5 118.6L1214.5 118.5L1215.5 119.0L1216.5 119.7L1217.5 120.5L1218.5 121.4L1219.5 122.4L1220.5 123.4L1221.5 124.5L1222.5 125.6L1223.5 126.7L1224.5 127.7L1225.5 128.7L1226.5 129.6L1227.5 130.4L1228.5 131.0L1229.5 131.5L1230.5 131.2L1231.5 130.8L1232.5 130.3L1233.5 129.7L1234.5 129.1L1235.5 128.4L1236.5 127.8L1237.5 127.1L1238.5 126.4L1239.5 125.7L1240.5 125.1L1241.5 124.5L1242.5 124.0L1243.5 123.5L1244.5 123.2L1245.5 123.5L1246.5 124.2L1247.5 125.1L1248.5 126.2L1249.5 127.4L1250.5 128.6L1251.5 130.0L1252.5 131.3L1253.5 132.7L1254.5 134.1L1255.5 135.5L1256.5 136.8L1257.5 138.0L1258.5 139.1L1259.5 140.0L1260.5 140.8L1261.5 141.4L1262.5 141.0L1263.5 140.4L1264.5 139.8L1265.5 139.0L1266.5 138.1L1267.5 137.3L1268.5 136.4L1269.5 135.5L1270.5 134.6L1271.5 133.9L1272.5 133.2L1273.5 132.7L1274.5 132.4L1275.5 133.2L1276.5 134.2L1277.5 135.5L1278.5 137.0L1279.5 138.6L1280.5 140.3L1281.5 142.1L1282.5 143.9L1283.5 146.5L1284.5 150.1L1285.5 153.8L1286.5 157.3L1287.5 159.9L1288.5 161.2L1289.5 162.4L1290.5 163.6L1291.5 164.7L1292.5 165.6L1293.5 166.4L1294.5 167.0L1295.5 167.0L1296.5 166.6L1297.5 166.1L1298.5 165.6L1299.5 164.9L1300.5 164.3L1301.5 163.8L1302.5 163.3L1303.5 162.9L1304.5 163.0L1305.5 164.1L1306.5 165.6L1307.5 167.3L1308.5 169.2L1309.5 171.3L1310.5 174.8L1311.5 178.9L1312.5 183.2L1313.5 187.9L1314.5 193.3L1315.5 199.0L1316.5 205.0L1317.5 211.2L1318.5 217.3L1319.5 223.5L1320.5 229.6L1321.5 235.2L1322.5 240.2L1323.5 245.1L1324.5 249.9L1325.5 254.8L1326.5 259.9L1327.5 265.8L1328.5 271.9L1329.5 278.3L1330.5 285.0L1331.5 292.9L1332.5 301.0L1333.5 309.3L1334.5 318.0L1335.5 327.2L1336.5 336.9L1337.5 349.9L1338.5 365.3L1339.5 382.1L1340.5 400.0L1341.5 424.8L1342.5 452.1L1343.5 481.9L1344.5 516.8L1345.5 552.6L1346.5 586.0L1347.5 617.3L1348.5 648.9L1349.5 683.9L1350.5 721.7L1351.5 760.0L1352.5 800.2L1353.5 839.6L1354.5 871.3L1355.5 898.1L1356.5 917.5L1357.5 936.0L1358.5 954.2L1359.5 970.7L1360.5 979.1L1361.5 984.0L1362.5 984.0L1363.5 979.1L1364.5 970.7L1365.5 954.2L1366.5 936.0L1367.5 917.5L1368.5 898.1L1369.5 870.7L1370.5 842.6L1371.5 816.1L1372.5 789.2L1373.5 760.0L1374.5 717.9L1375.5 674.0L1376.5 640.6L1377.5 612.3L1378.5 584.5L1379.5 554.0L1380.5 521.0L1381.5 488.0L1382.5 456.8L1383.5 425.7L1384.5 396.9L1385.5 376.2L1386.5 364.5L1387.5 354.0L1388.5 344.4L1389.5 335.6L1390.5 327.1L1391.5 320.0L1392.5 314.3L1393.5 309.1L1394.5 304.1L1395.5 299.2L1396.5 294.1L1397.5 288.8L1398.5 283.0L1399.5 274.9L1400.5 266.1L1401.5 257.1L1402.5 248.6L1403.5 241.5L1404.5 234.7L1405.5 228.1L1406.5 221.8L1407.5 215.9L1408.5 210.6L1409.5 207.2L1410.5 204.2L1411.5 200.9L1412.5 195.7L1413.5 187.9L1414.5 181.8L1415.5 178.6L1416.5 175.8L1417.5 173.9L1418.5 173.0L1419.5 172.3L1420.5 171.6L1421.5 171.1L1422.5 171.2L1423.5 171.6L1424.5 172.2L1425.5 172.9L1426.5 173.6L1427.5 174.3L1428.5 174.9L1429.5 175.3L1430.5 175.4L1431.5 174.5L1432.5 173.2L1433.5 171.6L1434.5 169.9L1435.5 168.0L1436.5 166.1L1437.5 164.2L1438.5 161.8L1439.5 158.9L1440.5 155.8L1441.5 152.7L1442.5 149.9L1443.5 147.7L1444.5 146.2L1445.5 144.8L1446.5 143.4L1447.5 142.1L1448.5 141.0L1449.5 140.2L1450.5 140.1L1451.5 140.5L1452.5 141.1L1453.5 141.7L1454.5 142.5L1455.5 143.2L1456.5 144.1L1457.5 144.9L1458.5 145.6L1459.5 146.4L1460.5 147.0L1461.5 147.6L1462.5 148.0L1463.5 147.9L1464.5 147.1L1465.5 146.0L1466.5 144.8L1467.5 143.4L1468.5 142.0L1469.5 140.5L1470.5 139.0L1471.5 137.6L1472.5 136.2L1473.5 134.7L1474.5 133.0L1475.5 131.3L1476.5 129.8L1477.5 128.4L1478.5 127.4L1479.5 127.1L1480.5 127.5L1481.5 128.0L1482.5 128.5L1483.5 129.1L1484.5 129.8L1485.5 130.5L1486.5 131.2L1487.5 132.0L1488.5 132.7L1489.5 133.4L1490.5 134.0L1491.5 134.6L1492.5 135.2L1493.5 135.6L1494.5 135.9L1495.5 135.6L1496.5 135.1L1497.5 134.3L1498.5 133.5L1499.5 132.5L1500.5 131.5L1501.5 130.5L1502.5 129.4L1503.5 128.4L1504.5 127.4L1505.5 126.4L1506.5 125.5L1507.5 124.7L1508.5 124.1L1509.5 123.6L1510.5 123.7L1511.5 124.0L1512.5 124.3L1513.5 124.7L1514.5 125.1L1515.5 125.6L1516.5 126.1L1517.5 126.7L1518.5 127.2L1519.5 127.7L1520.5 128.2L1521.5 128.7L1522.5 129.2L1523.5 129.6L1524.5 130.0L1525.5 130.3L1526.5 130.5L1527.5 130.4L1528.5 129.9L1529.5 129.4L1530.5 128.8L1531.5 128.1L1532.5 127.3L1533.5 126.5L1534.5 125.7L1535.5 124.9L1536.5 124.1L1537.5 123.4L1538.5 122.6L1539.5 122.0L1540.5 121.4L1541.5 121.0L1542.5 120.6L1543.5 120.8L1544.5 121.2L1545.5 121.6L1546.5 122.0L1547.5 122.5L1548.5 123.0L1549.5 123.6L1550.5 124.1L1551.5 124.7L1552.5 125.2L1553.5 125.8L1554.5 126.2L1555.5 126.7L1556.5 127.0L1557.5 127.3L1558.5 127.4L1559.5 127.1L1560.5 126.7L1561.5 126.2L1562.5 125.6L1563.5 125.0L1564.5 124.3L1565.5 123.6L1566.5 122.9L1567.5 122.3L1568.5 121.6L1569.5 121.0L1570.5 120.4L1571.5 119.9L1572.5 119.4L1573.5 119.1L1574.5 119.1L1575.5 119.4L1576.5 119.8L1577.5 120.2L1578.5 120.6L1579.5 121.1L1580.5 121.6L1581.5 122.2L1582.5 122.7L1583.5 123.2L1584.5 123.8L1585.5 124.2L1586.5 124.7L1587.5 125.0L1588.5 125.4L1589.5 125.6L1590.5 125.4L1591.5 125.1L1592.5 124.7L1593.5 124.3L1594.5 123.8L1595.5 123.2L1596.5 122.7L1597.5 122.1L1598.5 121.6L1599.5 121.0L1600.5 120.5L1601.5 120.0L1602.5 119.6L1603.5 119.2L1604.5 118.9L1605.5 118.8L1606.5 119.0L1607.5 119.2L1608.5 119.6L1609.5 119.9L1610.5 120.3L1611.5 120.8L1612.5 121.2L1613.5 121.7L1614.5 122.1L1615.5 122.5L1616.5 123.0L1617.5 123.3L1618.5 123.7L1619.5 124.0L1620.5 124.2L1621.5 124.2L1622.5 123.9L1623.5 123.6L1624.5 123.3L1625.5 122.9L1626.5 122.4L1627.5 122.0L1628.5 121.5L1629.5 121.0L1630.5 120.5L1631.5 120.1L1632.5 119.6L1633.5 119.2L1634.5 118.9L1635.5 118.6L1636.5 118.4L1637.5 118.5L1638.5 118.7L1639.5 118.9L1640.5 119.3L1641.5 119.6L1642.5 120.0L1643.5 120.3L1644.5 120.7L1645.5 121.1L1646.5 121.5L1647.5 121.9L1648.5 122.2L1649.5 122.5L1650.5 122.8L1651.5 123.0L1652.5 123.2L1653.5 123.0L1654.5 122.8L1655.5 122.5L1656.5 122.1L1657.5 121.8L1658.5 121.4L1659.5 121.0L1660.5 120.5L1661.5 120.1L1662.5 119.7L1663.5 119.3L1664.5 119.0L1665.5 118.7L1666.5 118.4L1667.5 118.2L1668.5 118.1L1669.5 118.2L1670.5 118.4L1671.5 118.7L1672.5 119.0L1673.5 119.3L1674.5 119.6L1675.5 119.9L1676.5 120.3L1677.5 120.6L1678.5 121.0L1679.5 121.3L1680.5 121.6L1681.5 121.8L1682.5 122.0L1683.5 122.2L1684.5 122.2L1685.5 122.0L1686.5 121.8L1687.5 121.5L1688.5 121.2L1689.5 120.9L1690.5 120.5L1691.5 120.2L1692.5 119.8L1693.5 119.5L1694.5 119.1L1695.5 118.8L1696.5 118.5L1697.5 118.2L1698.5 118.0L1699.5 117.8L1700.5 117.9L1701.5 118.0L1702.5 118.2L1703.5 118.5L1704.5 118.7L1705.5 119.0L1706.5 119.3L1707.5 119.6L1708.5 119.9L1709.5 120.2L1710.5 120.5L1711.5 120.8L1712.5 121.0L1713.5 121.2L1714.5 121.4L1715.5 121.6L1716.5 121.4L1717.5 121.3L1718.5 121.0L1719.5 120.8L1720.5 120.5L1721.5 120.2L1722.5 119.9L1723.5 119.6L1724.5 119.3L1725.5 118.9L1726.5 118.6L1727.5 118.4L1728.5 118.1L1729.5 117.9L1730.5 117.7L1731.5 117.6L1732.5 117.7L1733.5 117.9L1734.5 118.1L1735.5 118.3L1736.5 118.5L1737.5 118.8L1738.5 119.0L1739.5 119.3L1740.5 119.6L1741.5 119.9L1742.5 120.1L1743.5 120.4L1744.5 120.6L1745.5 120.8L1746.5 120.9L1747.5 121.0L1748.5 120.8L1749.5 120.7L1750.5 120.4L1751.5 120.2L1752.5 120.0L1753.5 119.7L1754.5 119.4L1755.5 119.1L1756.5 118.8L1757.5 118.5L1758.5 118.3L1759.5 118.0L1760.5 117.8L1761.5 117.6L1762.5 117.5L1763.5 117.4L1764.5 117.6L1765.5 117.7L1766.5 117.9L1767.5 118.1L1768.5 118.3L1769.5 118.6L1770.5 118.8L1771.5 119.1L1772.5 119.3L1773.5 119.6L1774.5 119.8L1775.5 120.0L1776.5 120.2L1777.5 120.3L1778.5 120.5L1779.5 120.5L1780.5 120.3L1781.5 120.2L1782.5 120.0L1783.5 119.7L1784.5 119.5L1785.5 119.3L1786.5 119.0L1787.5 118.7L1788.5 118.5L1789.5 118.2L1790.5 118.0L1791.5 117.8L1792.5 117.6L1793.5 117.4L1794.5 117.3L1795.5 117.3L1796.5 117.5L1797.5 117.6L1798.5 117.8L1799.5 118.0L1800.5 118.2L1801.5 118.4L1802.5 118.6L1803.5 118.9L1804.5 119.1L1805.5 119.3L1806.5 119.5L1807.5 119.7L1808.5 119.9L1809.5 120.0L1810.5 120.1L1811.5 120.1L1812.5 119.9L1813.5 119.8L1814.5 119.6L1815.5 119.4L1816.5 119.2L1817.5 118.9L1818.5 118.7L1819.5 118.5L1820.5 118.2L1821.5 118.0L1822.5 117.8L1823.5 117.6L1824.5 117.4L1825.5 117.3L1826.5 117.2L1827.5 117.2L1828.5 117.4L1829.5 117.5L1830.5 117.7L1831.5 117.8L1832.5 118.0L1833.5 118.2L1834.5 118.5L1835.5 118.7L1836.5 118.9L1837.5 119.1L1838.5 119.3L1839.5 119.4L1840.5 119.6L1841.5 119.7L1842.5 119.8L1843.5 119.7L1844.5 119.6L1845.5 119.5L1846.5 119.3L1847.5 119.1L1848.5 118.9L1849.5 118.7L1850.5 118.5L1851.5 118.2L1852.5 118.0L1853.5 117.8L1854.5 117.6L1855.5 117.5L1856.5 117.3L1857.5 117.2L1858.5 117.1L1859.5 117.2L1860.5 117.3L1861.5 117.4L1862.5 117.6L1863.5 117.7L1864.5 117.9L1865.5 118.1L1866.5 118.3L1867.5 118.5L1868.5 118.7L1869.5 118.9L1870.5 119.1L1871.5 119.2L1872.5 119.4L1873.5 119.5L1874.5 119.6L1875.5 119.5L1876.5 119.4L1877.5 119.2L1878.5 119.1L1879.5 118.9L1880.5 118.7L1881.5 118.5L1882.5 118.3L1883.5 118.1L1884.5 117.9L1885.5 117.7L1886.5 117.5L1887.5 117.4L1888.5 117.2L1889.5 117.1L1890.5 117.0L1891.5 117.1L1892.5 117.2L1893.5 117.3L1894.5 117.5L1895.5 117.6L1896.5 117.8L1897.5 118.0L1898.5 118.2L1899.5 118.4L1900.5 118.6L1901.5 118.7L1902.5 118.9L1903.5 119.0L1904.5 119.2L1905.5 119.3L1906.5 119.4L1907.5 119.3L1908.5 119.2L1909.5 119.0L1910.5 118.9L1911.5 118.7L1912.5 118.5L1913.5 118.3L1914.5 118.2L1915.5 118.0L1916.5 117.8L1917.5 117.6L1918.5 117.4L1919.5 117.3L1920.5 117.1L1921.5 117.0L1922.5 116.9L1923.5 117.0L1924.5 117.1L1925.5 117.2L1926.5 117.4L1927.5 117.5L1928.5 117.7L1929.5 117.9L1930.5 118.1L1931.5 118.2L1932.5 118.4L1933.5 118.6L1934.5 118.7L1935.5 118.9L1936.5 119.0L1937.5 119.1L1938.5 119.2L1939.5 119.1L1940.5 119.0L1941.5 118.9L1942.5 118.7L1943.5 118.6L1944.5 118.4L1945.5 118.2L1946.5 118.1L1947.5 117.9L1948.5 117.7L1949.5 117.5L1950.5 117.4L1951.5 117.2L1952.5 117.1L1953.5 117.0L1954.5 116.9L1955.5 117.0L1956.5 117.1L1957.5 117.2L1958.5 117.3L1959.5 117.5L1960.5 117.6L1961.5 117.8L1962.5 118.0L1963.5 118.1L1964.5 118.3L1965.5 118.5L1966.5 118.6L1967.5 118.8L1968.5 118.9L1969.5 119.0L1970.5 119.1L1971.5 119.0L1972.5 118.9L1973.5 118.8L1974.5 118.6L1975.5 118.5L1976.5 118.3L1977.5 118.2L1978.5 118.0L1979.5 117.8L1980.5 117.6L1981.5 117.5L1982.5 117.3L1983.5 117.2L1984.5 117.1L1985.5 117.0L1986.5 116.9L1987.5 116.9L1988.5 117.0L1989.5 117.1L1990.5 117.2L1991.5 117.4L1992.5 117.5L1993.5 117.7L1994.5 117.9L1995.5 118.0L1996.5 118.2L1997.5 118.4L1998.5 118.5L1999.5 118.6L2000.5 118.8L2001.5 118.9L2002.5 118.9"/>
</g>
<g id="legend">
<rect x="1389.3" y="610.9" width="592.6" height="488.0" fill="#fff" stroke="#262626" stroke-width="7.9"/>
<line x1="1404.3" y1="664.6" x2="1561.5" y2="664.6" stroke="#0072BD" stroke-width="9"/>
<text x="1570.9" y="695.3" font-size="83.7" fill="#000" stroke="#ffffff" stroke-width="0.8" stroke-linejoin="round"><tspan font-size="89.5" textLength="70.0" lengthAdjust="spacingAndGlyphs">Δ</tspan><tspan x="1642.0">w=-50nm</tspan></text>
<line x1="1404.3" y1="759.9" x2="1561.5" y2="759.9" stroke="#D95319" stroke-width="9"/>
<text x="1570.9" y="790.6" font-size="83.7" fill="#000" stroke="#ffffff" stroke-width="0.8" stroke-linejoin="round"><tspan font-size="89.5" textLength="70.0" lengthAdjust="spacingAndGlyphs">Δ</tspan><tspan x="1642.0">w=-25nm</tspan></text>
<line x1="1404.3" y1="855.2" x2="1561.5" y2="855.2" stroke="#EDB120" stroke-width="9"/>
<text x="1570.9" y="885.9" font-size="83.7" fill="#000" stroke="#ffffff" stroke-width="0.8" stroke-linejoin="round"><tspan font-size="89.5" textLength="70.0" lengthAdjust="spacingAndGlyphs">Δ</tspan><tspan x="1642.0">w=0nm</tspan></text>
<line x1="1404.3" y1="950.5" x2="1561.5" y2="950.5" stroke="#7E2F8E" stroke-width="9"/>
<text x="1570.9" y="981.2" font-size="83.7" fill="#000" stroke="#ffffff" stroke-width="0.8" stroke-linejoin="round"><tspan font-size="89.5" textLength="70.0" lengthAdjust="spacingAndGlyphs">Δ</tspan><tspan x="1642.0">w=25nm</tspan></text>
<line x1="1404.3" y1="1045.8" x2="1561.5" y2="1045.8" stroke="#77AC30" stroke-width="9"/>
<text x="1570.9" y="1076.5" font-size="83.7" fill="#000" stroke="#ffffff" stroke-width="0.8" stroke-linejoin="round"><tspan font-size="89.5" textLength="70.0" lengthAdjust="spacingAndGlyphs">Δ</tspan><tspan x="1642.0">w=50nm</tspan></text>
</g>
</g>
</svg>
</body></html>
